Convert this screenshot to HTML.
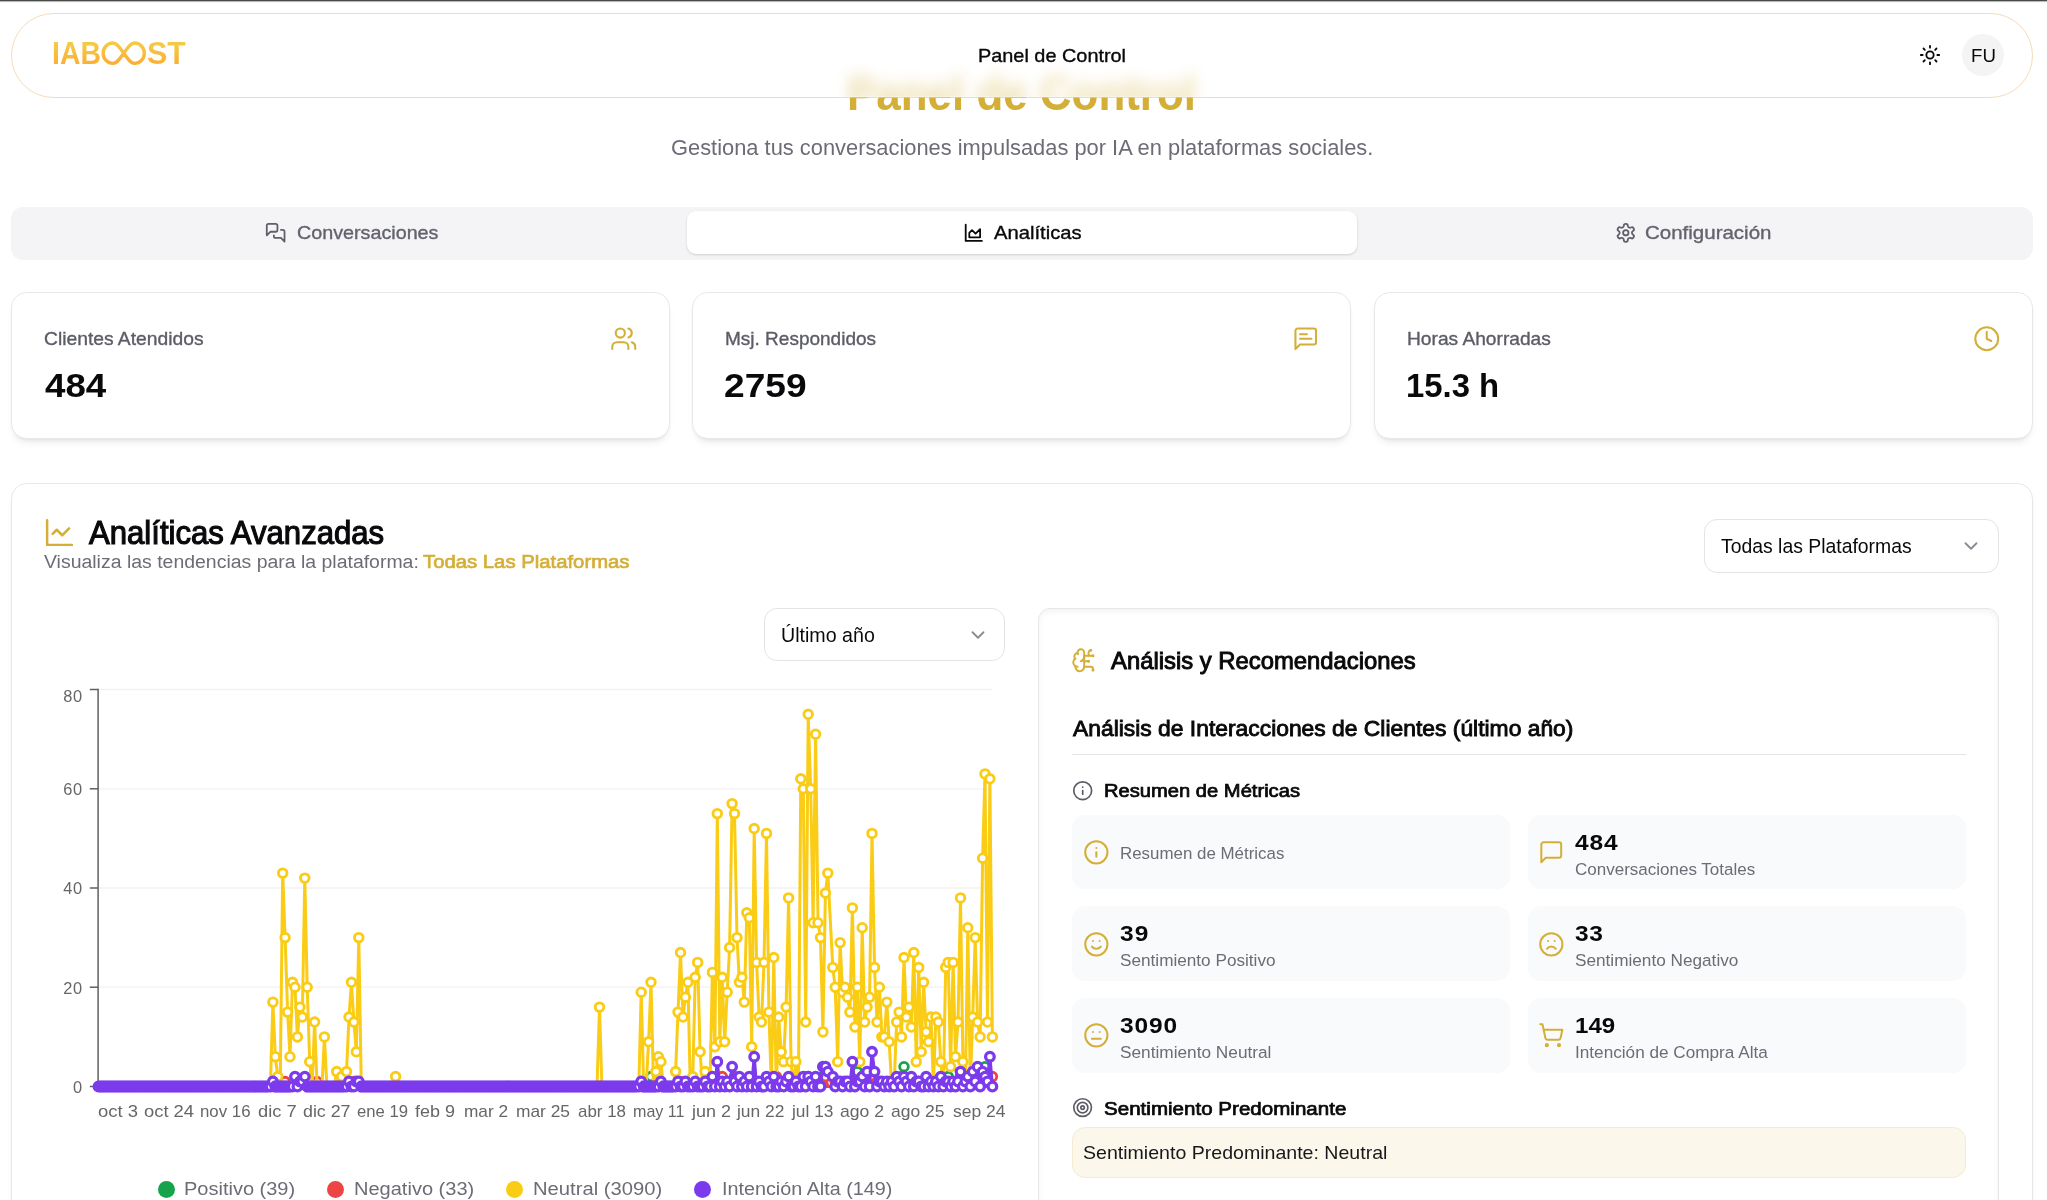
<!DOCTYPE html>
<html lang="es">
<head>
<meta charset="utf-8">
<title>Panel de Control</title>
<style>
*{box-sizing:border-box;margin:0;padding:0}
html,body{width:2047px;height:1200px;overflow:hidden;background:#fff}
body{font-family:"Liberation Sans",sans-serif;color:#09090b;position:relative;-webkit-font-smoothing:antialiased}
.abs{position:absolute}
.t{position:absolute;white-space:nowrap;line-height:1;transform:translateY(-50%)}
.gold{color:#d4af37}
.muted{color:#6c6c76}
.med{-webkit-text-stroke:0.35px currentColor}
.semi{font-weight:normal!important;-webkit-text-stroke:0.04em currentColor}
svg{display:block;overflow:visible}
.ic{position:absolute;fill:none;stroke-linecap:round;stroke-linejoin:round}

/* top bar line */
#topline{left:0;top:0;width:2047px;height:3px;background:linear-gradient(#484848 0,#484848 1px,#bdbdbd 1px,#bdbdbd 2px,#f6f6f6 2px,#f6f6f6 3px)}

/* hero (behind header) */
#hero,#hero2{top:94px;font-weight:bold;font-size:47.5px;color:#d4af37}
#sub{top:147.7px;font-size:22.3px;color:#6c6c76}

/* header pill */
#hdr{left:11px;top:12.5px;width:2021.5px;height:85px;border-radius:43px;border:1px solid #f2dcb8;background:#fff}
.lg{top:53.3px;font-weight:bold;font-size:30.8px;background:linear-gradient(180deg,#f6c944 20%,#fbb033 80%);-webkit-background-clip:text;background-clip:text;color:transparent}
#nav{left:978px;top:55px;font-size:18.5px}
#avatar{left:1962px;top:34px;width:42px;height:42px;border-radius:50%;background:#f4f4f5}
#fu{left:1971px;top:55px;font-size:17.8px}

/* tabs */
#tabs{left:11px;top:206.5px;width:2022px;height:53px;border-radius:12px;background:#f4f4f6}
#tabact{left:686.5px;top:211.2px;width:670.5px;height:42.8px;border-radius:9px;background:#fff;box-shadow:0 1px 3px rgba(0,0,0,.10),0 1px 2px rgba(0,0,0,.06)}
.tab{font-size:18.5px;top:232.5px}

/* stat cards */
.card{position:absolute;background:#fff;border:1px solid #e7e7e9;border-radius:15.5px}
.stat{top:292px;width:659px;height:147px;box-shadow:0 6px 9px -4px rgba(0,0,0,.11),0 2px 4px -2px rgba(0,0,0,.08)}
.slab{font-size:18.5px;color:#5b5c66;top:339px}
.sval{font-size:33.5px;font-weight:bold;top:385.5px}

/* analytics card */
#acard{left:11px;top:483px;width:2021.5px;height:800px;box-shadow:0 6px 9px -4px rgba(0,0,0,.11),0 2px 4px -2px rgba(0,0,0,.08)}
#atitle{left:88px;top:533px;font-size:32.5px;font-weight:bold}
#asub,#asubg{left:45px;top:562px;font-size:19.2px}
#atitle{-webkit-text-stroke-width:0.036em}
.sel{position:absolute;background:#fff;border:1px solid #e4e4e7;border-radius:13px}
.seltx{font-size:19.3px}

/* right panel */
#rp{left:1038px;top:608px;width:961px;height:700px;border-radius:12px;box-shadow:inset 0 2.8px 6px rgba(0,0,0,.05)}
#rptitle{left:1110px;top:660.5px;font-size:24.5px;font-weight:bold}
#rph{left:1072px;top:728px;font-size:21.5px;font-weight:bold}
#rpline{left:1072px;top:754.2px;width:894px;height:1.3px;background:#e4e4e7}
.h3{font-size:18px;font-weight:bold}
.tile{position:absolute;background:#f9fafc;border-radius:13px;width:437.8px;height:74.7px}
.tv{font-size:21.5px;font-weight:bold}
.tl{font-size:16.8px;color:#6c6c76}
#pred{left:1072px;top:1127.2px;width:893.6px;height:50.4px;border-radius:13px;background:#fbf7ea;border:1px solid #f4ecd2}
#predtx{left:1084px;top:1152px;font-size:18.2px;color:#18181b}

/* chart */
.ax{font-size:16.4px;color:#666}
.leg{font-size:18.3px;color:#6c6c76;top:1189px}
.dot{position:absolute;width:17px;height:17px;border-radius:50%;top:1180.6px}
/*fit*/
#logo1{transform-origin:0 50%;transform:translateY(-50%) scaleX(0.9218);letter-spacing:0.000px;left:52px!important}
#logo2{transform-origin:0 50%;transform:translateY(-50%) scaleX(0.9909);letter-spacing:0.000px;left:147px!important}
#nav{transform-origin:0 50%;transform:translateY(-50%) scaleX(1.0742);letter-spacing:0.000px;left:978px!important}
#fu{transform-origin:0 50%;transform:translateY(-50%) scaleX(1.0492);letter-spacing:0.000px;left:1971px!important}
#hero{transform-origin:0 50%;transform:translateY(-50%) scaleX(0.9247);letter-spacing:0.000px;left:847px!important}
#sub{transform-origin:0 50%;transform:translateY(-50%) scaleX(0.9804);letter-spacing:0.000px;left:671px!important}
#tab1{transform-origin:0 50%;transform:translateY(-50%) scaleX(1.0662);letter-spacing:0.000px;left:297px!important}
#tab2{transform-origin:0 50%;transform:translateY(-50%) scaleX(1.0925);letter-spacing:0.000px;left:994px!important}
#tab3{transform-origin:0 50%;transform:translateY(-50%) scaleX(1.1076);letter-spacing:0.000px;left:1645px!important}
#sl1{transform-origin:0 50%;transform:translateY(-50%) scaleX(1.0411);letter-spacing:0.000px;left:44px!important}
#sl2{transform-origin:0 50%;transform:translateY(-50%) scaleX(1.0272);letter-spacing:0.000px;left:725px!important}
#sl3{transform-origin:0 50%;transform:translateY(-50%) scaleX(1.0361);letter-spacing:0.000px;left:1407px!important}
#sv1{transform-origin:0 50%;transform:translateY(-50%) scaleX(1.0965);letter-spacing:0.000px;left:45px!important}
#sv2{transform-origin:0 50%;transform:translateY(-50%) scaleX(1.1072);letter-spacing:0.000px;left:724px!important}
#sv3{transform-origin:0 50%;transform:translateY(-50%) scaleX(0.9803);letter-spacing:0.000px;left:1406px!important}
#atitle{transform-origin:0 50%;transform:translateY(-50%) scaleX(0.9572);letter-spacing:0.000px;left:89px!important}
#asub{transform-origin:0 50%;transform:translateY(-50%) scaleX(1.0137);letter-spacing:0.000px;left:44px!important}
#asubg{transform-origin:0 50%;transform:translateY(-50%) scaleX(1.0581);letter-spacing:0.000px;left:423px!important}
#sel1{transform-origin:0 50%;transform:translateY(-50%) scaleX(1.0050);letter-spacing:-0.000px;left:1721px!important}
#sel2{transform-origin:0 50%;transform:translateY(-50%) scaleX(1.0180);letter-spacing:0.000px;left:781px!important}
#rptitle{transform-origin:0 50%;transform:translateY(-50%) scaleX(0.9729);letter-spacing:0.000px;left:1111px!important}
#rph{transform-origin:0 50%;transform:translateY(-50%) scaleX(1.0628);letter-spacing:-0.000px;left:1073px!important}
#h3a{transform-origin:0 50%;transform:translateY(-50%) scaleX(1.1194);letter-spacing:0.000px;left:1104px!important}
#h3b{transform-origin:0 50%;transform:translateY(-50%) scaleX(1.1400);letter-spacing:0.021px;left:1104px!important}
#tl0{transform-origin:0 50%;transform:translateY(-50%) scaleX(1.0070);letter-spacing:0.000px;left:1120px!important}
#tl1{transform-origin:0 50%;transform:translateY(-50%) scaleX(1.0135);letter-spacing:0.000px;left:1575px!important}
#tl2{transform-origin:0 50%;transform:translateY(-50%) scaleX(1.0231);letter-spacing:0.000px;left:1120px!important}
#tl3{transform-origin:0 50%;transform:translateY(-50%) scaleX(1.0241);letter-spacing:0.000px;left:1575px!important}
#tl4{transform-origin:0 50%;transform:translateY(-50%) scaleX(1.0276);letter-spacing:0.000px;left:1120px!important}
#tl5{transform-origin:0 50%;transform:translateY(-50%) scaleX(1.0230);letter-spacing:0.000px;left:1575px!important}
#tv1{transform-origin:0 50%;transform:translateY(-50%) scaleX(1.1400);letter-spacing:0.807px;left:1575px!important}
#tv2{transform-origin:0 50%;transform:translateY(-50%) scaleX(1.1400);letter-spacing:0.915px;left:1120px!important}
#tv3{transform-origin:0 50%;transform:translateY(-50%) scaleX(1.1400);letter-spacing:0.520px;left:1575px!important}
#tv4{transform-origin:0 50%;transform:translateY(-50%) scaleX(1.1400);letter-spacing:0.749px;left:1120px!important}
#tv5{transform-origin:0 50%;transform:translateY(-50%) scaleX(1.1194);letter-spacing:0.000px;left:1575px!important}
#predtx{transform-origin:0 50%;transform:translateY(-50%) scaleX(1.0754);letter-spacing:0.000px;left:1083px!important}
#lg1{transform-origin:0 50%;transform:translateY(-50%) scaleX(1.0936);letter-spacing:0.000px;left:184px!important}
#lg2{transform-origin:0 50%;transform:translateY(-50%) scaleX(1.0954);letter-spacing:0.000px;left:354px!important}
#lg3{transform-origin:0 50%;transform:translateY(-50%) scaleX(1.1058);letter-spacing:0.000px;left:533px!important}
#lg4{transform-origin:0 50%;transform:translateY(-50%) scaleX(1.0818);letter-spacing:0.000px;left:722px!important}
#xl0{transform-origin:0 50%;transform:translateY(-50%) scaleX(1.1259);letter-spacing:0.000px;left:98px!important}
#xl1{transform-origin:0 50%;transform:translateY(-50%) scaleX(1.1202);letter-spacing:0.000px;left:144px!important}
#xl2{transform-origin:0 50%;transform:translateY(-50%) scaleX(1.0265);letter-spacing:-0.000px;left:200px!important}
#xl3{transform-origin:0 50%;transform:translateY(-50%) scaleX(1.1125);letter-spacing:0.000px;left:258px!important}
#xl4{transform-origin:0 50%;transform:translateY(-50%) scaleX(1.0862);letter-spacing:-0.000px;left:303px!important}
#xl5{transform-origin:0 50%;transform:translateY(-50%) scaleX(1.0176);letter-spacing:0.000px;left:357px!important}
#xl6{transform-origin:0 50%;transform:translateY(-50%) scaleX(1.0974);letter-spacing:0.000px;left:415px!important}
#xl7{transform-origin:0 50%;transform:translateY(-50%) scaleX(1.0505);letter-spacing:0.000px;left:464px!important}
#xl8{transform-origin:0 50%;transform:translateY(-50%) scaleX(1.0589);letter-spacing:-0.000px;left:516px!important}
#xl9{transform-origin:0 50%;transform:translateY(-50%) scaleX(1.0331);letter-spacing:0.000px;left:578px!important}
#xl10{transform-origin:0 50%;transform:translateY(-50%) scaleX(0.9805);letter-spacing:0.000px;left:633px!important}
#xl11{transform-origin:0 50%;transform:translateY(-50%) scaleX(1.0949);letter-spacing:0.000px;left:692px!important}
#xl12{transform-origin:0 50%;transform:translateY(-50%) scaleX(1.0616);letter-spacing:0.000px;left:737px!important}
#xl13{transform-origin:0 50%;transform:translateY(-50%) scaleX(1.0570);letter-spacing:0.000px;left:792px!important}
#xl14{transform-origin:0 50%;transform:translateY(-50%) scaleX(1.0729);letter-spacing:0.000px;left:840px!important}
#xl15{transform-origin:0 50%;transform:translateY(-50%) scaleX(1.0674);letter-spacing:0.000px;left:891px!important}
#xl16{transform-origin:0 50%;transform:translateY(-50%) scaleX(1.0671);letter-spacing:0.000px;left:953px!important}
/*vcal*/
#nav{top:56.25px!important}
#fu{top:56.90px!important}
#tab1{top:233.25px!important}
#tab2{top:233.25px!important}
#tab3{top:233.25px!important}
#sl1{top:339.25px!important}
#sl2{top:339.25px!important}
#sl3{top:339.25px!important}
#sv1{top:385.75px!important}
#sv2{top:385.75px!important}
#sv3{top:385.75px!important}
#atitle{top:533.25px!important}
#asub{top:561.60px!important}
#asubg{top:561.60px!important}
#sel1{top:546.65px!important}
#rptitle{top:661.25px!important}
#rph{top:729.75px!important}
#h3a{top:791.00px!important}
#h3b{top:1109.00px!important}
#tl0{top:854.40px!important}
#tv1{top:843.75px!important}
#tl1{top:870.40px!important}
#tv2{top:934.75px!important}
#tl2{top:961.40px!important}
#tv3{top:934.75px!important}
#tl3{top:961.40px!important}
#tv4{top:1026.75px!important}
#tl4{top:1053.40px!important}
#tv5{top:1026.75px!important}
#tl5{top:1053.40px!important}
#predtx{top:1153.10px!important}
#lg1{top:1189.15px!important}
#lg2{top:1189.15px!important}
#lg3{top:1189.15px!important}
#lg4{top:1189.15px!important}
#logo1{top:54.40px!important}
#logo2{top:54.40px!important}
#sub{top:148.15px!important}
#hero{top:93.75px!important}
#xl0{top:1111.20px!important}
#xl1{top:1111.20px!important}
#xl2{top:1111.20px!important}
#xl3{top:1111.20px!important}
#xl4{top:1111.20px!important}
#xl5{top:1111.20px!important}
#xl6{top:1111.20px!important}
#xl7{top:1111.20px!important}
#xl8{top:1111.20px!important}
#xl9{top:1111.20px!important}
#xl10{top:1111.20px!important}
#xl11{top:1111.20px!important}
#xl12{top:1111.20px!important}
#xl13{top:1111.20px!important}
#xl14{top:1111.20px!important}
#xl15{top:1111.20px!important}
#xl16{top:1111.20px!important}
#yl0{top:696.20px!important}
#yl1{top:789.20px!important}
#yl2{top:888.20px!important}
#yl3{top:988.20px!important}
#yl4{top:1087.20px!important}
#sel2{top:635.65px!important}
#hero2{transform-origin:0 50%;transform:translateY(-50%) scaleX(0.9247);letter-spacing:0.000px;left:847px!important;top:93.75px!important}
#hero{clip-path:inset(27.40px -200px -200px -200px)}
#hero2{filter:blur(7.5px);opacity:.44;clip-path:inset(-200px -200px 20.70px -200px)}
</style>
</head>
<body>
<div id="root" style="position:absolute;left:0;top:0;width:2047px;height:1200px;overflow:hidden;will-change:transform">
<div class="t" id="sub">Gestiona tus conversaciones impulsadas por IA en plataformas sociales.</div>

<div class="abs" id="hdr"></div>
<div class="t" id="hero2">Panel de Control</div>
<div class="t" id="hero">Panel de Control</div>
<div class="abs" id="topline"></div>
<div class="t lg" id="logo1">IAB</div><div class="t lg" id="logo2">ST</div>
<svg class="abs" style="left:0;top:0" width="200" height="100" viewBox="0 0 200 100"><defs><linearGradient id="lgd" gradientUnits="userSpaceOnUse" x1="0" y1="42" x2="0" y2="64"><stop offset="0.1" stop-color="#f6c944"/><stop offset="0.9" stop-color="#fbb033"/></linearGradient></defs><path d="M123.75,53.20 C127.35,48.60 129.95,43.05 134.65,43.05 C139.98,43.05 144.30,47.59 144.30,53.20 C144.30,58.81 139.98,63.35 134.65,63.35 C129.95,63.35 127.35,57.80 123.75,53.20 C120.15,48.60 117.55,43.05 112.85,43.05 C107.52,43.05 103.20,47.59 103.20,53.20 C103.20,58.81 107.52,63.35 112.85,63.35 C117.55,63.35 120.15,57.80 123.75,53.20 Z" fill="none" stroke="url(#lgd)" stroke-width="3.4" stroke-linejoin="round"/></svg>
<div class="t med" id="nav">Panel de Control</div>
<div class="abs" id="avatar"></div>
<div class="t" id="fu">FU</div>

<div class="abs" id="tabs"></div>
<div class="abs" id="tabact"></div>
<div class="t tab med" id="tab1" style="left:297px;color:#63636e">Conversaciones</div>
<div class="t tab med" id="tab2" style="left:995px">Analíticas</div>
<div class="t tab med" id="tab3" style="left:1646px;color:#63636e">Configuración</div>

<div class="card stat" style="left:11px"></div>
<div class="card stat" style="left:692px"></div>
<div class="card stat" style="left:1374px;width:658.5px"></div>
<div class="t slab med" id="sl1" style="left:45px">Clientes Atendidos</div>
<div class="t slab med" id="sl2" style="left:726px">Msj. Respondidos</div>
<div class="t slab med" id="sl3" style="left:1407px">Horas Ahorradas</div>
<div class="t sval" id="sv1" style="left:45px">484</div>
<div class="t sval" id="sv2" style="left:726px">2759</div>
<div class="t sval" id="sv3" style="left:1407px">15.3 h</div>

<div class="card" id="acard"></div>
<div class="t semi" id="atitle">Analíticas Avanzadas</div>
<div class="t muted" id="asub">Visualiza las tendencias para la plataforma:</div>
<div class="t gold" id="asubg" style="-webkit-text-stroke:0.7px #d4af37">Todas Las Plataformas</div>

<div class="sel" style="left:1704px;top:519px;width:295px;height:53.5px"></div>
<div class="t seltx" id="sel1" style="left:1722px;top:546px">Todas las Plataformas</div>
<div class="sel" style="left:764.4px;top:608.4px;width:241px;height:52.2px"></div>
<div class="t seltx" id="sel2" style="left:782px;top:635px">Último año</div>

<div class="card" id="rp"></div>
<div class="t semi" id="rptitle">Análisis y Recomendaciones</div>
<div class="t semi" id="rph">Análisis de Interacciones de Clientes (último año)</div>
<div class="abs" id="rpline"></div>
<div class="t h3 semi" id="h3a" style="left:1104px;top:791px">Resumen de Métricas</div>

<div class="tile" style="left:1072.4px;top:814.7px"></div>
<div class="tile" style="left:1528px;top:814.7px"></div>
<div class="tile" style="left:1072.4px;top:906.3px"></div>
<div class="tile" style="left:1528px;top:906.3px"></div>
<div class="tile" style="left:1072.4px;top:997.9px"></div>
<div class="tile" style="left:1528px;top:997.9px"></div>

<div class="t tl" id="tl0" style="left:1120px;top:853px">Resumen de Métricas</div>
<div class="t tv" id="tv1" style="left:1576px;top:842px">484</div>
<div class="t tl" id="tl1" style="left:1576px;top:869px">Conversaciones Totales</div>
<div class="t tv" id="tv2" style="left:1120px;top:934px">39</div>
<div class="t tl" id="tl2" style="left:1120px;top:961px">Sentimiento Positivo</div>
<div class="t tv" id="tv3" style="left:1576px;top:934px">33</div>
<div class="t tl" id="tl3" style="left:1576px;top:961px">Sentimiento Negativo</div>
<div class="t tv" id="tv4" style="left:1120px;top:1025px">3090</div>
<div class="t tl" id="tl4" style="left:1120px;top:1052px">Sentimiento Neutral</div>
<div class="t tv" id="tv5" style="left:1576px;top:1025px">149</div>
<div class="t tl" id="tl5" style="left:1576px;top:1052px">Intención de Compra Alta</div>

<div class="t h3 semi" id="h3b" style="left:1104px;top:1108px">Sentimiento Predominante</div>
<div class="abs" id="pred"></div>
<div class="t" id="predtx">Sentimiento Predominante: Neutral</div>

<!-- legend -->
<div class="dot" style="left:157.5px;background:#16a34a"></div>
<div class="dot" style="left:327.1px;background:#ef4444"></div>
<div class="dot" style="left:505.7px;background:#facc15"></div>
<div class="dot" style="left:694.4px;background:#7c3aed"></div>
<div class="t leg" id="lg1" style="left:185px">Positivo (39)</div>
<div class="t leg" id="lg2" style="left:355px">Negativo (33)</div>
<div class="t leg" id="lg3" style="left:534px">Neutral (3090)</div>
<div class="t leg" id="lg4" style="left:722px">Intención Alta (149)</div>

<svg class="abs" style="left:0;top:0" width="2047" height="1200" viewBox="0 0 2047 1200"><line x1="98" x2="992" y1="987.2" y2="987.2" stroke="#f2f2f3" stroke-width="1.3"/><line x1="98" x2="992" y1="888.0" y2="888.0" stroke="#f2f2f3" stroke-width="1.3"/><line x1="98" x2="992" y1="788.8" y2="788.8" stroke="#f2f2f3" stroke-width="1.3"/><line x1="98" x2="992" y1="689.5" y2="689.5" stroke="#f2f2f3" stroke-width="1.3"/><line x1="98" x2="992" y1="1086.5" y2="1086.5" stroke="#606060" stroke-width="1.5"/><line x1="98.1" x2="98.1" y1="688.8" y2="1086.5" stroke="#606060" stroke-width="1.5"/><line x1="89.8" x2="98" y1="1086.5" y2="1086.5" stroke="#606060" stroke-width="1.5"/><line x1="89.8" x2="98" y1="987.2" y2="987.2" stroke="#606060" stroke-width="1.5"/><line x1="89.8" x2="98" y1="888.0" y2="888.0" stroke="#606060" stroke-width="1.5"/><line x1="89.8" x2="98" y1="788.8" y2="788.8" stroke="#606060" stroke-width="1.5"/><line x1="89.8" x2="98" y1="689.5" y2="689.5" stroke="#606060" stroke-width="1.5"/><path d="M98.5,1086.5L101.0,1086.5L103.4,1086.5L105.9,1086.5L108.3,1086.5L110.8,1086.5L113.2,1086.5L115.7,1086.5L118.1,1086.5L120.6,1086.5L123.1,1086.5L125.5,1086.5L128.0,1086.5L130.4,1086.5L132.9,1086.5L135.3,1086.5L137.8,1086.5L140.2,1086.5L142.7,1086.5L145.2,1086.5L147.6,1086.5L150.1,1086.5L152.5,1086.5L155.0,1086.5L157.4,1086.5L159.9,1086.5L162.3,1086.5L164.8,1086.5L167.3,1086.5L169.7,1086.5L172.2,1086.5L174.6,1086.5L177.1,1086.5L179.5,1086.5L182.0,1086.5L184.4,1086.5L186.9,1086.5L189.4,1086.5L191.8,1086.5L194.3,1086.5L196.7,1086.5L199.2,1086.5L201.6,1086.5L204.1,1086.5L206.6,1086.5L209.0,1086.5L211.5,1086.5L213.9,1086.5L216.4,1086.5L218.8,1086.5L221.3,1086.5L223.7,1086.5L226.2,1086.5L228.7,1086.5L231.1,1086.5L233.6,1086.5L236.0,1086.5L238.5,1086.5L240.9,1086.5L243.4,1086.5L245.8,1086.5L248.3,1086.5L250.8,1086.5L253.2,1086.5L255.7,1086.5L258.1,1086.5L260.6,1086.5L263.0,1086.5L265.5,1086.5L267.9,1086.5L270.4,1086.5L272.9,1086.5L275.3,1086.5L277.8,1086.5L280.2,1086.5L282.7,1086.5L285.1,1086.5L287.6,1086.5L290.0,1086.5L292.5,1086.5L295.0,1086.5L297.4,1086.5L299.9,1086.5L302.3,1086.5L304.8,1086.5L307.2,1086.5L309.7,1086.5L312.1,1086.5L314.6,1086.5L317.1,1086.5L319.5,1086.5L322.0,1086.5L324.4,1086.5L326.9,1086.5L329.3,1086.5L331.8,1086.5L334.2,1086.5L336.7,1086.5L339.2,1086.5L341.6,1086.5L344.1,1086.5L346.5,1086.5L349.0,1086.5L351.4,1086.5L353.9,1086.5L356.3,1086.5L358.8,1086.5L361.3,1086.5L363.7,1086.5L366.2,1086.5L368.6,1086.5L371.1,1086.5L373.5,1086.5L376.0,1086.5L378.4,1086.5L380.9,1086.5L383.4,1086.5L385.8,1086.5L388.3,1086.5L390.7,1086.5L393.2,1086.5L395.6,1086.5L398.1,1086.5L400.6,1086.5L403.0,1086.5L405.5,1086.5L407.9,1086.5L410.4,1086.5L412.8,1086.5L415.3,1086.5L417.7,1086.5L420.2,1086.5L422.7,1086.5L425.1,1086.5L427.6,1086.5L430.0,1086.5L432.5,1086.5L434.9,1086.5L437.4,1086.5L439.8,1086.5L442.3,1086.5L444.8,1086.5L447.2,1086.5L449.7,1086.5L452.1,1086.5L454.6,1086.5L457.0,1086.5L459.5,1086.5L461.9,1086.5L464.4,1086.5L466.9,1086.5L469.3,1086.5L471.8,1086.5L474.2,1086.5L476.7,1086.5L479.1,1086.5L481.6,1086.5L484.0,1086.5L486.5,1086.5L489.0,1086.5L491.4,1086.5L493.9,1086.5L496.3,1086.5L498.8,1086.5L501.2,1086.5L503.7,1086.5L506.1,1086.5L508.6,1086.5L511.1,1086.5L513.5,1086.5L516.0,1086.5L518.4,1086.5L520.9,1086.5L523.3,1086.5L525.8,1086.5L528.2,1086.5L530.7,1086.5L533.2,1086.5L535.6,1086.5L538.1,1086.5L540.5,1086.5L543.0,1086.5L545.4,1086.5L547.9,1086.5L550.3,1086.5L552.8,1086.5L555.3,1086.5L557.7,1086.5L560.2,1086.5L562.6,1086.5L565.1,1086.5L567.5,1086.5L570.0,1086.5L572.5,1086.5L574.9,1086.5L577.4,1086.5L579.8,1086.5L582.3,1086.5L584.7,1086.5L587.2,1086.5L589.6,1086.5L592.1,1086.5L594.6,1086.5L597.0,1086.5L599.5,1086.5L601.9,1086.5L604.4,1086.5L606.8,1086.5L609.3,1086.5L611.7,1086.5L614.2,1086.5L616.7,1086.5L619.1,1086.5L621.6,1086.5L624.0,1086.5L626.5,1086.5L628.9,1086.5L631.4,1086.5L633.8,1086.5L636.3,1086.5L638.8,1086.5L641.2,1086.5L643.7,1086.5L646.1,1086.5L648.6,1086.5L651.0,1076.6L653.5,1086.5L655.9,1086.5L658.4,1086.5L660.9,1086.5L663.3,1086.5L665.8,1086.5L668.2,1086.5L670.7,1086.5L673.1,1086.5L675.6,1086.5L678.0,1086.5L680.5,1086.5L683.0,1086.5L685.4,1086.5L687.9,1086.5L690.3,1086.5L692.8,1086.5L695.2,1086.5L697.7,1086.5L700.1,1086.5L702.6,1086.5L705.1,1086.5L707.5,1086.5L710.0,1086.5L712.4,1086.5L714.9,1086.5L717.3,1081.5L719.8,1086.5L722.2,1086.5L724.7,1086.5L727.2,1086.5L729.6,1086.5L732.1,1086.5L734.5,1086.5L737.0,1086.5L739.4,1086.5L741.9,1086.5L744.3,1086.5L746.8,1081.5L749.3,1086.5L751.7,1086.5L754.2,1086.5L756.6,1086.5L759.1,1086.5L761.5,1086.5L764.0,1086.5L766.5,1081.5L768.9,1086.5L771.4,1086.5L773.8,1086.5L776.3,1086.5L778.7,1086.5L781.2,1086.5L783.6,1086.5L786.1,1086.5L788.6,1086.5L791.0,1086.5L793.5,1086.5L795.9,1086.5L798.4,1086.5L800.8,1081.5L803.3,1086.5L805.7,1086.5L808.2,1076.6L810.7,1086.5L813.1,1086.5L815.6,1086.5L818.0,1086.5L820.5,1086.5L822.9,1076.6L825.4,1086.5L827.8,1086.5L832.8,1086.5L835.2,1086.5L837.7,1086.5L840.1,1086.5L842.6,1081.5L845.0,1086.5L847.5,1086.5L849.9,1086.5L852.4,1086.5L854.9,1086.5L857.3,1071.6L859.8,1086.5L862.2,1086.5L864.7,1086.5L867.1,1086.5L869.6,1086.5L872.0,1076.6L874.5,1086.5L877.0,1086.5L879.4,1086.5L881.9,1086.5L884.3,1086.5L886.8,1086.5L889.2,1086.5L891.7,1086.5L894.1,1086.5L896.6,1086.5L899.1,1086.5L901.5,1086.5L904.0,1066.7L906.4,1086.5L908.9,1086.5L911.3,1086.5L913.8,1081.5L916.2,1086.5L918.7,1086.5L921.2,1086.5L923.6,1086.5L926.1,1086.5L928.5,1086.5L931.0,1086.5L933.4,1081.5L935.9,1086.5L938.3,1086.5L940.8,1086.5L943.3,1086.5L945.7,1086.5L948.2,1076.6L950.6,1086.5L953.1,1086.5L955.5,1086.5L958.0,1086.5L960.5,1076.6L962.9,1086.5L965.4,1086.5L967.8,1086.5L970.3,1086.5L972.7,1086.5L975.2,1081.5L977.6,1086.5L980.1,1086.5L982.6,1086.5L985.0,1066.7L987.5,1086.5L989.9,1076.6L992.4,1086.5" fill="none" stroke="#16a34a" stroke-width="3.0" stroke-linejoin="round" stroke-linecap="round"/><g fill="#fff" stroke="#16a34a" stroke-width="2.85"><circle cx="651.0" cy="1076.6" r="4.3"/><circle cx="717.3" cy="1081.5" r="4.3"/><circle cx="746.8" cy="1081.5" r="4.3"/><circle cx="766.5" cy="1081.5" r="4.3"/><circle cx="800.8" cy="1081.5" r="4.3"/><circle cx="808.2" cy="1076.6" r="4.3"/><circle cx="822.9" cy="1076.6" r="4.3"/><circle cx="842.6" cy="1081.5" r="4.3"/><circle cx="857.3" cy="1071.6" r="4.3"/><circle cx="872.0" cy="1076.6" r="4.3"/><circle cx="904.0" cy="1066.7" r="4.3"/><circle cx="913.8" cy="1081.5" r="4.3"/><circle cx="933.4" cy="1081.5" r="4.3"/><circle cx="948.2" cy="1076.6" r="4.3"/><circle cx="960.5" cy="1076.6" r="4.3"/><circle cx="975.2" cy="1081.5" r="4.3"/><circle cx="985.0" cy="1066.7" r="4.3"/><circle cx="989.9" cy="1076.6" r="4.3"/></g><path d="M98.5,1086.5L101.0,1086.5L103.4,1086.5L105.9,1086.5L108.3,1086.5L110.8,1086.5L113.2,1086.5L115.7,1086.5L118.1,1086.5L120.6,1086.5L123.1,1086.5L125.5,1086.5L128.0,1086.5L130.4,1086.5L132.9,1086.5L135.3,1086.5L137.8,1086.5L140.2,1086.5L142.7,1086.5L145.2,1086.5L147.6,1086.5L150.1,1086.5L152.5,1086.5L155.0,1086.5L157.4,1086.5L159.9,1086.5L162.3,1086.5L164.8,1086.5L167.3,1086.5L169.7,1086.5L172.2,1086.5L174.6,1086.5L177.1,1086.5L179.5,1086.5L182.0,1086.5L184.4,1086.5L186.9,1086.5L189.4,1086.5L191.8,1086.5L194.3,1086.5L196.7,1086.5L199.2,1086.5L201.6,1086.5L204.1,1086.5L206.6,1086.5L209.0,1086.5L211.5,1086.5L213.9,1086.5L216.4,1086.5L218.8,1086.5L221.3,1086.5L223.7,1086.5L226.2,1086.5L228.7,1086.5L231.1,1086.5L233.6,1086.5L236.0,1086.5L238.5,1086.5L240.9,1086.5L243.4,1086.5L245.8,1086.5L248.3,1086.5L250.8,1086.5L253.2,1086.5L255.7,1086.5L258.1,1086.5L260.6,1086.5L263.0,1086.5L265.5,1086.5L267.9,1086.5L270.4,1086.5L272.9,1086.5L275.3,1086.5L277.8,1086.5L280.2,1086.5L282.7,1086.5L285.1,1081.5L287.6,1086.5L290.0,1086.5L292.5,1086.5L295.0,1086.5L297.4,1086.5L299.9,1086.5L302.3,1086.5L304.8,1086.5L307.2,1086.5L309.7,1086.5L312.1,1086.5L314.6,1086.5L317.1,1081.5L319.5,1086.5L322.0,1086.5L324.4,1086.5L326.9,1086.5L329.3,1086.5L331.8,1086.5L334.2,1086.5L336.7,1086.5L339.2,1086.5L341.6,1086.5L344.1,1086.5L346.5,1086.5L349.0,1086.5L351.4,1086.5L353.9,1081.5L356.3,1086.5L358.8,1086.5L361.3,1086.5L363.7,1086.5L366.2,1086.5L368.6,1086.5L371.1,1086.5L373.5,1086.5L376.0,1086.5L378.4,1086.5L380.9,1086.5L383.4,1086.5L385.8,1086.5L388.3,1086.5L390.7,1086.5L393.2,1086.5L395.6,1086.5L398.1,1086.5L400.6,1086.5L403.0,1086.5L405.5,1086.5L407.9,1086.5L410.4,1086.5L412.8,1086.5L415.3,1086.5L417.7,1086.5L420.2,1086.5L422.7,1086.5L425.1,1086.5L427.6,1086.5L430.0,1086.5L432.5,1086.5L434.9,1086.5L437.4,1086.5L439.8,1086.5L442.3,1086.5L444.8,1086.5L447.2,1086.5L449.7,1086.5L452.1,1086.5L454.6,1086.5L457.0,1086.5L459.5,1086.5L461.9,1086.5L464.4,1086.5L466.9,1086.5L469.3,1086.5L471.8,1086.5L474.2,1086.5L476.7,1086.5L479.1,1086.5L481.6,1086.5L484.0,1086.5L486.5,1086.5L489.0,1086.5L491.4,1086.5L493.9,1086.5L496.3,1086.5L498.8,1086.5L501.2,1086.5L503.7,1086.5L506.1,1086.5L508.6,1086.5L511.1,1086.5L513.5,1086.5L516.0,1086.5L518.4,1086.5L520.9,1086.5L523.3,1086.5L525.8,1086.5L528.2,1086.5L530.7,1086.5L533.2,1086.5L535.6,1086.5L538.1,1086.5L540.5,1086.5L543.0,1086.5L545.4,1086.5L547.9,1086.5L550.3,1086.5L552.8,1086.5L555.3,1086.5L557.7,1086.5L560.2,1086.5L562.6,1086.5L565.1,1086.5L567.5,1086.5L570.0,1086.5L572.5,1086.5L574.9,1086.5L577.4,1086.5L579.8,1086.5L582.3,1086.5L584.7,1086.5L587.2,1086.5L589.6,1086.5L592.1,1086.5L594.6,1086.5L597.0,1086.5L599.5,1086.5L601.9,1086.5L604.4,1086.5L606.8,1086.5L609.3,1086.5L611.7,1086.5L614.2,1086.5L616.7,1086.5L619.1,1086.5L621.6,1086.5L624.0,1086.5L626.5,1086.5L628.9,1086.5L631.4,1086.5L633.8,1086.5L636.3,1086.5L638.8,1086.5L641.2,1086.5L643.7,1086.5L646.1,1086.5L648.6,1086.5L651.0,1086.5L653.5,1086.5L655.9,1086.5L658.4,1086.5L660.9,1086.5L663.3,1086.5L665.8,1086.5L668.2,1086.5L670.7,1086.5L673.1,1086.5L675.6,1086.5L678.0,1086.5L680.5,1081.5L683.0,1086.5L685.4,1086.5L687.9,1086.5L690.3,1086.5L692.8,1086.5L695.2,1086.5L697.7,1086.5L700.1,1086.5L702.6,1086.5L705.1,1086.5L707.5,1086.5L710.0,1086.5L712.4,1086.5L714.9,1086.5L717.3,1086.5L719.8,1086.5L722.2,1076.6L724.7,1086.5L727.2,1086.5L729.6,1086.5L732.1,1086.5L734.5,1076.6L737.0,1086.5L739.4,1086.5L741.9,1081.5L744.3,1086.5L746.8,1086.5L749.3,1086.5L751.7,1086.5L754.2,1086.5L756.6,1081.5L759.1,1086.5L761.5,1086.5L764.0,1086.5L766.5,1086.5L768.9,1086.5L771.4,1081.5L773.8,1086.5L776.3,1076.6L778.7,1086.5L781.2,1086.5L783.6,1086.5L786.1,1086.5L788.6,1086.5L791.0,1086.5L793.5,1081.5L795.9,1086.5L798.4,1086.5L800.8,1086.5L803.3,1086.5L805.7,1086.5L808.2,1081.5L810.7,1086.5L813.1,1086.5L815.6,1086.5L818.0,1086.5L820.5,1086.5L822.9,1086.5L825.4,1076.6L827.8,1086.5L832.8,1086.5L835.2,1081.5L837.7,1086.5L840.1,1086.5L842.6,1086.5L845.0,1086.5L847.5,1086.5L849.9,1081.5L852.4,1086.5L854.9,1086.5L857.3,1086.5L859.8,1086.5L862.2,1076.6L864.7,1086.5L867.1,1086.5L869.6,1086.5L872.0,1086.5L874.5,1086.5L877.0,1081.5L879.4,1086.5L881.9,1086.5L884.3,1086.5L886.8,1086.5L889.2,1081.5L891.7,1086.5L894.1,1086.5L896.6,1086.5L899.1,1086.5L901.5,1076.6L904.0,1076.6L906.4,1086.5L908.9,1086.5L911.3,1086.5L913.8,1086.5L916.2,1086.5L918.7,1081.5L921.2,1086.5L923.6,1086.5L926.1,1086.5L928.5,1086.5L931.0,1086.5L933.4,1086.5L935.9,1086.5L938.3,1086.5L940.8,1086.5L943.3,1081.5L945.7,1086.5L948.2,1086.5L950.6,1081.5L953.1,1086.5L955.5,1086.5L958.0,1086.5L960.5,1086.5L962.9,1081.5L965.4,1086.5L967.8,1086.5L970.3,1076.6L972.7,1086.5L975.2,1086.5L977.6,1086.5L980.1,1081.5L982.6,1086.5L985.0,1086.5L987.5,1086.5L989.9,1086.5L992.4,1076.6" fill="none" stroke="#ef4444" stroke-width="3.0" stroke-linejoin="round" stroke-linecap="round"/><g fill="#fff" stroke="#ef4444" stroke-width="2.85"><circle cx="285.1" cy="1081.5" r="4.3"/><circle cx="317.1" cy="1081.5" r="4.3"/><circle cx="353.9" cy="1081.5" r="4.3"/><circle cx="680.5" cy="1081.5" r="4.3"/><circle cx="722.2" cy="1076.6" r="4.3"/><circle cx="734.5" cy="1076.6" r="4.3"/><circle cx="741.9" cy="1081.5" r="4.3"/><circle cx="756.6" cy="1081.5" r="4.3"/><circle cx="771.4" cy="1081.5" r="4.3"/><circle cx="776.3" cy="1076.6" r="4.3"/><circle cx="793.5" cy="1081.5" r="4.3"/><circle cx="808.2" cy="1081.5" r="4.3"/><circle cx="825.4" cy="1076.6" r="4.3"/><circle cx="835.2" cy="1081.5" r="4.3"/><circle cx="849.9" cy="1081.5" r="4.3"/><circle cx="862.2" cy="1076.6" r="4.3"/><circle cx="877.0" cy="1081.5" r="4.3"/><circle cx="889.2" cy="1081.5" r="4.3"/><circle cx="901.5" cy="1076.6" r="4.3"/><circle cx="904.0" cy="1076.6" r="4.3"/><circle cx="918.7" cy="1081.5" r="4.3"/><circle cx="943.3" cy="1081.5" r="4.3"/><circle cx="950.6" cy="1081.5" r="4.3"/><circle cx="962.9" cy="1081.5" r="4.3"/><circle cx="970.3" cy="1076.6" r="4.3"/><circle cx="980.1" cy="1081.5" r="4.3"/><circle cx="992.4" cy="1076.6" r="4.3"/></g><path d="M98.5,1086.5L101.0,1086.5L103.4,1086.5L105.9,1086.5L108.3,1086.5L110.8,1086.5L113.2,1086.5L115.7,1086.5L118.1,1086.5L120.6,1086.5L123.1,1086.5L125.5,1086.5L128.0,1086.5L130.4,1086.5L132.9,1086.5L135.3,1086.5L137.8,1086.5L140.2,1086.5L142.7,1086.5L145.2,1086.5L147.6,1086.5L150.1,1086.5L152.5,1086.5L155.0,1086.5L157.4,1086.5L159.9,1086.5L162.3,1086.5L164.8,1086.5L167.3,1086.5L169.7,1086.5L172.2,1086.5L174.6,1086.5L177.1,1086.5L179.5,1086.5L182.0,1086.5L184.4,1086.5L186.9,1086.5L189.4,1086.5L191.8,1086.5L194.3,1086.5L196.7,1086.5L199.2,1086.5L201.6,1086.5L204.1,1086.5L206.6,1086.5L209.0,1086.5L211.5,1086.5L213.9,1086.5L216.4,1086.5L218.8,1086.5L221.3,1086.5L223.7,1086.5L226.2,1086.5L228.7,1086.5L231.1,1086.5L233.6,1086.5L236.0,1086.5L238.5,1086.5L240.9,1086.5L243.4,1086.5L245.8,1086.5L248.3,1086.5L250.8,1086.5L253.2,1086.5L255.7,1086.5L258.1,1086.5L260.6,1086.5L263.0,1086.5L265.5,1086.5L267.9,1086.5L270.4,1086.5L272.9,1002.1L275.3,1056.7L277.8,1076.6L280.2,1086.5L282.7,873.1L285.1,937.6L287.6,1012.1L290.0,1056.7L292.5,982.3L295.0,987.2L297.4,1036.9L299.9,1007.1L302.3,1017.0L304.8,878.1L307.2,987.2L309.7,1061.7L312.1,1086.5L314.6,1022.0L317.1,1086.5L319.5,1086.5L322.0,1086.5L324.4,1036.9L326.9,1086.5L329.3,1086.5L331.8,1086.5L334.2,1086.5L336.7,1071.6L339.2,1086.5L341.6,1076.6L344.1,1086.5L346.5,1071.6L349.0,1017.0L351.4,982.3L353.9,1022.0L356.3,1051.8L358.8,937.6L361.3,1086.5L363.7,1086.5L366.2,1086.5L368.6,1086.5L371.1,1086.5L373.5,1086.5L376.0,1086.5L378.4,1086.5L380.9,1086.5L383.4,1086.5L385.8,1086.5L388.3,1086.5L390.7,1086.5L393.2,1086.5L395.6,1076.6L398.1,1086.5L400.6,1086.5L403.0,1086.5L405.5,1086.5L407.9,1086.5L410.4,1086.5L412.8,1086.5L415.3,1086.5L417.7,1086.5L420.2,1086.5L422.7,1086.5L425.1,1086.5L427.6,1086.5L430.0,1086.5L432.5,1086.5L434.9,1086.5L437.4,1086.5L439.8,1086.5L442.3,1086.5L444.8,1086.5L447.2,1086.5L449.7,1086.5L452.1,1086.5L454.6,1086.5L457.0,1086.5L459.5,1086.5L461.9,1086.5L464.4,1086.5L466.9,1086.5L469.3,1086.5L471.8,1086.5L474.2,1086.5L476.7,1086.5L479.1,1086.5L481.6,1086.5L484.0,1086.5L486.5,1086.5L489.0,1086.5L491.4,1086.5L493.9,1086.5L496.3,1086.5L498.8,1086.5L501.2,1086.5L503.7,1086.5L506.1,1086.5L508.6,1086.5L511.1,1086.5L513.5,1086.5L516.0,1086.5L518.4,1086.5L520.9,1086.5L523.3,1086.5L525.8,1086.5L528.2,1086.5L530.7,1086.5L533.2,1086.5L535.6,1086.5L538.1,1086.5L540.5,1086.5L543.0,1086.5L545.4,1086.5L547.9,1086.5L550.3,1086.5L552.8,1086.5L555.3,1086.5L557.7,1086.5L560.2,1086.5L562.6,1086.5L565.1,1086.5L567.5,1086.5L570.0,1086.5L572.5,1086.5L574.9,1086.5L577.4,1086.5L579.8,1086.5L582.3,1086.5L584.7,1086.5L587.2,1086.5L589.6,1086.5L592.1,1086.5L594.6,1086.5L597.0,1086.5L599.5,1007.1L601.9,1086.5L604.4,1086.5L606.8,1086.5L609.3,1086.5L611.7,1086.5L614.2,1086.5L616.7,1086.5L619.1,1086.5L621.6,1086.5L624.0,1086.5L626.5,1086.5L628.9,1086.5L631.4,1086.5L633.8,1086.5L636.3,1086.5L638.8,1086.5L641.2,992.2L643.7,1086.5L646.1,1086.5L648.6,1041.8L651.0,982.3L653.5,1086.5L655.9,1071.6L658.4,1056.7L660.9,1061.7L663.3,1086.5L665.8,1086.5L668.2,1086.5L670.7,1086.5L673.1,1086.5L675.6,1071.6L678.0,1012.1L680.5,952.5L683.0,1017.0L685.4,997.2L687.9,982.3L690.3,1086.5L692.8,1076.6L695.2,977.3L697.7,962.4L700.1,1051.8L702.6,1086.5L705.1,1071.6L707.5,1086.5L710.0,1086.5L712.4,972.4L714.9,1046.8L717.3,813.6L719.8,1041.8L722.2,977.3L724.7,1041.8L727.2,992.2L729.6,947.5L732.1,803.6L734.5,813.6L737.0,937.6L739.4,982.3L741.9,977.3L744.3,1002.1L746.8,912.8L749.3,917.8L751.7,1046.8L754.2,828.5L756.6,962.4L759.1,1017.0L761.5,1022.0L764.0,962.4L766.5,833.4L768.9,1012.1L771.4,1086.5L773.8,957.5L776.3,1086.5L778.7,1017.0L781.2,1051.8L783.6,1061.7L786.1,1007.1L788.6,897.9L791.0,1061.7L793.5,1086.5L795.9,1061.7L798.4,1086.5L800.8,778.8L803.3,788.8L805.7,1022.0L808.2,714.3L810.7,788.8L813.1,922.7L815.6,734.2L818.0,922.7L820.5,937.6L822.9,1031.9L825.4,893.0L827.8,873.1L832.8,967.4L835.2,987.2L837.7,1061.7L840.1,942.6L842.6,992.2L845.0,987.2L847.5,997.2L849.9,1012.1L852.4,907.9L854.9,1027.0L857.3,987.2L859.8,1061.7L862.2,927.7L864.7,1022.0L867.1,1007.1L869.6,997.2L872.0,833.4L874.5,967.4L877.0,1022.0L879.4,987.2L881.9,1036.9L884.3,1036.9L886.8,1002.1L889.2,1041.8L891.7,1086.5L894.1,1086.5L896.6,1022.0L899.1,1012.1L901.5,1036.9L904.0,957.5L906.4,1017.0L908.9,1007.1L911.3,1027.0L913.8,952.5L916.2,1061.7L918.7,967.4L921.2,1051.8L923.6,982.3L926.1,1031.9L928.5,1041.8L931.0,1017.0L933.4,1086.5L935.9,1017.0L938.3,1022.0L940.8,1061.7L943.3,1086.5L945.7,967.4L948.2,962.4L950.6,1066.7L953.1,962.4L955.5,1056.7L958.0,1022.0L960.5,897.9L962.9,1061.7L965.4,1086.5L967.8,927.7L970.3,1086.5L972.7,1017.0L975.2,937.6L977.6,1022.0L980.1,1036.9L982.6,858.2L985.0,773.9L987.5,1022.0L989.9,778.8L992.4,1036.9" fill="none" stroke="#facc15" stroke-width="3.0" stroke-linejoin="round" stroke-linecap="round"/><g fill="#fff" stroke="#facc15" stroke-width="2.85"><circle cx="272.9" cy="1002.1" r="4.3"/><circle cx="275.3" cy="1056.7" r="4.3"/><circle cx="277.8" cy="1076.6" r="4.3"/><circle cx="282.7" cy="873.1" r="4.3"/><circle cx="285.1" cy="937.6" r="4.3"/><circle cx="287.6" cy="1012.1" r="4.3"/><circle cx="290.0" cy="1056.7" r="4.3"/><circle cx="292.5" cy="982.3" r="4.3"/><circle cx="295.0" cy="987.2" r="4.3"/><circle cx="297.4" cy="1036.9" r="4.3"/><circle cx="299.9" cy="1007.1" r="4.3"/><circle cx="302.3" cy="1017.0" r="4.3"/><circle cx="304.8" cy="878.1" r="4.3"/><circle cx="307.2" cy="987.2" r="4.3"/><circle cx="309.7" cy="1061.7" r="4.3"/><circle cx="314.6" cy="1022.0" r="4.3"/><circle cx="324.4" cy="1036.9" r="4.3"/><circle cx="336.7" cy="1071.6" r="4.3"/><circle cx="341.6" cy="1076.6" r="4.3"/><circle cx="346.5" cy="1071.6" r="4.3"/><circle cx="349.0" cy="1017.0" r="4.3"/><circle cx="351.4" cy="982.3" r="4.3"/><circle cx="353.9" cy="1022.0" r="4.3"/><circle cx="356.3" cy="1051.8" r="4.3"/><circle cx="358.8" cy="937.6" r="4.3"/><circle cx="395.6" cy="1076.6" r="4.3"/><circle cx="599.5" cy="1007.1" r="4.3"/><circle cx="641.2" cy="992.2" r="4.3"/><circle cx="648.6" cy="1041.8" r="4.3"/><circle cx="651.0" cy="982.3" r="4.3"/><circle cx="655.9" cy="1071.6" r="4.3"/><circle cx="658.4" cy="1056.7" r="4.3"/><circle cx="660.9" cy="1061.7" r="4.3"/><circle cx="675.6" cy="1071.6" r="4.3"/><circle cx="678.0" cy="1012.1" r="4.3"/><circle cx="680.5" cy="952.5" r="4.3"/><circle cx="683.0" cy="1017.0" r="4.3"/><circle cx="685.4" cy="997.2" r="4.3"/><circle cx="687.9" cy="982.3" r="4.3"/><circle cx="692.8" cy="1076.6" r="4.3"/><circle cx="695.2" cy="977.3" r="4.3"/><circle cx="697.7" cy="962.4" r="4.3"/><circle cx="700.1" cy="1051.8" r="4.3"/><circle cx="705.1" cy="1071.6" r="4.3"/><circle cx="712.4" cy="972.4" r="4.3"/><circle cx="714.9" cy="1046.8" r="4.3"/><circle cx="717.3" cy="813.6" r="4.3"/><circle cx="719.8" cy="1041.8" r="4.3"/><circle cx="722.2" cy="977.3" r="4.3"/><circle cx="724.7" cy="1041.8" r="4.3"/><circle cx="727.2" cy="992.2" r="4.3"/><circle cx="729.6" cy="947.5" r="4.3"/><circle cx="732.1" cy="803.6" r="4.3"/><circle cx="734.5" cy="813.6" r="4.3"/><circle cx="737.0" cy="937.6" r="4.3"/><circle cx="739.4" cy="982.3" r="4.3"/><circle cx="741.9" cy="977.3" r="4.3"/><circle cx="744.3" cy="1002.1" r="4.3"/><circle cx="746.8" cy="912.8" r="4.3"/><circle cx="749.3" cy="917.8" r="4.3"/><circle cx="751.7" cy="1046.8" r="4.3"/><circle cx="754.2" cy="828.5" r="4.3"/><circle cx="756.6" cy="962.4" r="4.3"/><circle cx="759.1" cy="1017.0" r="4.3"/><circle cx="761.5" cy="1022.0" r="4.3"/><circle cx="764.0" cy="962.4" r="4.3"/><circle cx="766.5" cy="833.4" r="4.3"/><circle cx="768.9" cy="1012.1" r="4.3"/><circle cx="773.8" cy="957.5" r="4.3"/><circle cx="778.7" cy="1017.0" r="4.3"/><circle cx="781.2" cy="1051.8" r="4.3"/><circle cx="783.6" cy="1061.7" r="4.3"/><circle cx="786.1" cy="1007.1" r="4.3"/><circle cx="788.6" cy="897.9" r="4.3"/><circle cx="791.0" cy="1061.7" r="4.3"/><circle cx="795.9" cy="1061.7" r="4.3"/><circle cx="800.8" cy="778.8" r="4.3"/><circle cx="803.3" cy="788.8" r="4.3"/><circle cx="805.7" cy="1022.0" r="4.3"/><circle cx="808.2" cy="714.3" r="4.3"/><circle cx="810.7" cy="788.8" r="4.3"/><circle cx="813.1" cy="922.7" r="4.3"/><circle cx="815.6" cy="734.2" r="4.3"/><circle cx="818.0" cy="922.7" r="4.3"/><circle cx="820.5" cy="937.6" r="4.3"/><circle cx="822.9" cy="1031.9" r="4.3"/><circle cx="825.4" cy="893.0" r="4.3"/><circle cx="827.8" cy="873.1" r="4.3"/><circle cx="832.8" cy="967.4" r="4.3"/><circle cx="835.2" cy="987.2" r="4.3"/><circle cx="837.7" cy="1061.7" r="4.3"/><circle cx="840.1" cy="942.6" r="4.3"/><circle cx="842.6" cy="992.2" r="4.3"/><circle cx="845.0" cy="987.2" r="4.3"/><circle cx="847.5" cy="997.2" r="4.3"/><circle cx="849.9" cy="1012.1" r="4.3"/><circle cx="852.4" cy="907.9" r="4.3"/><circle cx="854.9" cy="1027.0" r="4.3"/><circle cx="857.3" cy="987.2" r="4.3"/><circle cx="859.8" cy="1061.7" r="4.3"/><circle cx="862.2" cy="927.7" r="4.3"/><circle cx="864.7" cy="1022.0" r="4.3"/><circle cx="867.1" cy="1007.1" r="4.3"/><circle cx="869.6" cy="997.2" r="4.3"/><circle cx="872.0" cy="833.4" r="4.3"/><circle cx="874.5" cy="967.4" r="4.3"/><circle cx="877.0" cy="1022.0" r="4.3"/><circle cx="879.4" cy="987.2" r="4.3"/><circle cx="881.9" cy="1036.9" r="4.3"/><circle cx="884.3" cy="1036.9" r="4.3"/><circle cx="886.8" cy="1002.1" r="4.3"/><circle cx="889.2" cy="1041.8" r="4.3"/><circle cx="896.6" cy="1022.0" r="4.3"/><circle cx="899.1" cy="1012.1" r="4.3"/><circle cx="901.5" cy="1036.9" r="4.3"/><circle cx="904.0" cy="957.5" r="4.3"/><circle cx="906.4" cy="1017.0" r="4.3"/><circle cx="908.9" cy="1007.1" r="4.3"/><circle cx="911.3" cy="1027.0" r="4.3"/><circle cx="913.8" cy="952.5" r="4.3"/><circle cx="916.2" cy="1061.7" r="4.3"/><circle cx="918.7" cy="967.4" r="4.3"/><circle cx="921.2" cy="1051.8" r="4.3"/><circle cx="923.6" cy="982.3" r="4.3"/><circle cx="926.1" cy="1031.9" r="4.3"/><circle cx="928.5" cy="1041.8" r="4.3"/><circle cx="931.0" cy="1017.0" r="4.3"/><circle cx="935.9" cy="1017.0" r="4.3"/><circle cx="938.3" cy="1022.0" r="4.3"/><circle cx="940.8" cy="1061.7" r="4.3"/><circle cx="945.7" cy="967.4" r="4.3"/><circle cx="948.2" cy="962.4" r="4.3"/><circle cx="950.6" cy="1066.7" r="4.3"/><circle cx="953.1" cy="962.4" r="4.3"/><circle cx="955.5" cy="1056.7" r="4.3"/><circle cx="958.0" cy="1022.0" r="4.3"/><circle cx="960.5" cy="897.9" r="4.3"/><circle cx="962.9" cy="1061.7" r="4.3"/><circle cx="967.8" cy="927.7" r="4.3"/><circle cx="972.7" cy="1017.0" r="4.3"/><circle cx="975.2" cy="937.6" r="4.3"/><circle cx="977.6" cy="1022.0" r="4.3"/><circle cx="980.1" cy="1036.9" r="4.3"/><circle cx="982.6" cy="858.2" r="4.3"/><circle cx="985.0" cy="773.9" r="4.3"/><circle cx="987.5" cy="1022.0" r="4.3"/><circle cx="989.9" cy="778.8" r="4.3"/><circle cx="992.4" cy="1036.9" r="4.3"/></g><path d="M98.5,1086.5L101.0,1086.5L103.4,1086.5L105.9,1086.5L108.3,1086.5L110.8,1086.5L113.2,1086.5L115.7,1086.5L118.1,1086.5L120.6,1086.5L123.1,1086.5L125.5,1086.5L128.0,1086.5L130.4,1086.5L132.9,1086.5L135.3,1086.5L137.8,1086.5L140.2,1086.5L142.7,1086.5L145.2,1086.5L147.6,1086.5L150.1,1086.5L152.5,1086.5L155.0,1086.5L157.4,1086.5L159.9,1086.5L162.3,1086.5L164.8,1086.5L167.3,1086.5L169.7,1086.5L172.2,1086.5L174.6,1086.5L177.1,1086.5L179.5,1086.5L182.0,1086.5L184.4,1086.5L186.9,1086.5L189.4,1086.5L191.8,1086.5L194.3,1086.5L196.7,1086.5L199.2,1086.5L201.6,1086.5L204.1,1086.5L206.6,1086.5L209.0,1086.5L211.5,1086.5L213.9,1086.5L216.4,1086.5L218.8,1086.5L221.3,1086.5L223.7,1086.5L226.2,1086.5L228.7,1086.5L231.1,1086.5L233.6,1086.5L236.0,1086.5L238.5,1086.5L240.9,1086.5L243.4,1086.5L245.8,1086.5L248.3,1086.5L250.8,1086.5L253.2,1086.5L255.7,1086.5L258.1,1086.5L260.6,1086.5L263.0,1086.5L265.5,1086.5L267.9,1086.5L270.4,1086.5L272.9,1081.5L275.3,1086.5L277.8,1086.5L280.2,1086.5L282.7,1086.5L285.1,1086.5L287.6,1086.5L290.0,1086.5L292.5,1086.5L295.0,1076.6L297.4,1086.5L299.9,1081.5L302.3,1081.5L304.8,1076.6L307.2,1086.5L309.7,1086.5L312.1,1086.5L314.6,1086.5L317.1,1086.5L319.5,1086.5L322.0,1086.5L324.4,1086.5L326.9,1086.5L329.3,1086.5L331.8,1086.5L334.2,1086.5L336.7,1086.5L339.2,1086.5L341.6,1086.5L344.1,1086.5L346.5,1086.5L349.0,1081.5L351.4,1086.5L353.9,1086.5L356.3,1081.5L358.8,1081.5L361.3,1086.5L363.7,1086.5L366.2,1086.5L368.6,1086.5L371.1,1086.5L373.5,1086.5L376.0,1086.5L378.4,1086.5L380.9,1086.5L383.4,1086.5L385.8,1086.5L388.3,1086.5L390.7,1086.5L393.2,1086.5L395.6,1086.5L398.1,1086.5L400.6,1086.5L403.0,1086.5L405.5,1086.5L407.9,1086.5L410.4,1086.5L412.8,1086.5L415.3,1086.5L417.7,1086.5L420.2,1086.5L422.7,1086.5L425.1,1086.5L427.6,1086.5L430.0,1086.5L432.5,1086.5L434.9,1086.5L437.4,1086.5L439.8,1086.5L442.3,1086.5L444.8,1086.5L447.2,1086.5L449.7,1086.5L452.1,1086.5L454.6,1086.5L457.0,1086.5L459.5,1086.5L461.9,1086.5L464.4,1086.5L466.9,1086.5L469.3,1086.5L471.8,1086.5L474.2,1086.5L476.7,1086.5L479.1,1086.5L481.6,1086.5L484.0,1086.5L486.5,1086.5L489.0,1086.5L491.4,1086.5L493.9,1086.5L496.3,1086.5L498.8,1086.5L501.2,1086.5L503.7,1086.5L506.1,1086.5L508.6,1086.5L511.1,1086.5L513.5,1086.5L516.0,1086.5L518.4,1086.5L520.9,1086.5L523.3,1086.5L525.8,1086.5L528.2,1086.5L530.7,1086.5L533.2,1086.5L535.6,1086.5L538.1,1086.5L540.5,1086.5L543.0,1086.5L545.4,1086.5L547.9,1086.5L550.3,1086.5L552.8,1086.5L555.3,1086.5L557.7,1086.5L560.2,1086.5L562.6,1086.5L565.1,1086.5L567.5,1086.5L570.0,1086.5L572.5,1086.5L574.9,1086.5L577.4,1086.5L579.8,1086.5L582.3,1086.5L584.7,1086.5L587.2,1086.5L589.6,1086.5L592.1,1086.5L594.6,1086.5L597.0,1086.5L599.5,1086.5L601.9,1086.5L604.4,1086.5L606.8,1086.5L609.3,1086.5L611.7,1086.5L614.2,1086.5L616.7,1086.5L619.1,1086.5L621.6,1086.5L624.0,1086.5L626.5,1086.5L628.9,1086.5L631.4,1086.5L633.8,1086.5L636.3,1086.5L638.8,1086.5L641.2,1081.5L643.7,1086.5L646.1,1086.5L648.6,1086.5L651.0,1086.5L653.5,1086.5L655.9,1086.5L658.4,1086.5L660.9,1081.5L663.3,1086.5L665.8,1086.5L668.2,1086.5L670.7,1086.5L673.1,1086.5L675.6,1086.5L678.0,1081.5L680.5,1086.5L683.0,1086.5L685.4,1081.5L687.9,1086.5L690.3,1086.5L692.8,1086.5L695.2,1081.5L697.7,1086.5L700.1,1086.5L702.6,1086.5L705.1,1081.5L707.5,1086.5L710.0,1086.5L712.4,1076.6L714.9,1086.5L717.3,1061.7L719.8,1086.5L722.2,1081.5L724.7,1086.5L727.2,1081.5L729.6,1086.5L732.1,1066.7L734.5,1081.5L737.0,1086.5L739.4,1076.6L741.9,1086.5L744.3,1081.5L746.8,1086.5L749.3,1076.6L751.7,1086.5L754.2,1056.7L756.6,1086.5L759.1,1081.5L761.5,1086.5L764.0,1086.5L766.5,1076.6L768.9,1081.5L771.4,1086.5L773.8,1076.6L776.3,1086.5L778.7,1086.5L781.2,1081.5L783.6,1086.5L786.1,1081.5L788.6,1076.6L791.0,1086.5L793.5,1086.5L795.9,1081.5L798.4,1086.5L800.8,1086.5L803.3,1076.6L805.7,1086.5L808.2,1076.6L810.7,1081.5L813.1,1086.5L815.6,1076.6L818.0,1086.5L820.5,1086.5L822.9,1066.7L825.4,1066.7L827.8,1071.6L832.8,1076.6L835.2,1086.5L837.7,1081.5L840.1,1081.5L842.6,1086.5L845.0,1081.5L847.5,1081.5L849.9,1086.5L852.4,1061.7L854.9,1086.5L857.3,1081.5L859.8,1081.5L862.2,1076.6L864.7,1086.5L867.1,1071.6L869.6,1086.5L872.0,1051.8L874.5,1071.6L877.0,1086.5L879.4,1081.5L881.9,1081.5L884.3,1086.5L886.8,1081.5L889.2,1086.5L891.7,1081.5L894.1,1086.5L896.6,1076.6L899.1,1081.5L901.5,1086.5L904.0,1076.6L906.4,1081.5L908.9,1086.5L911.3,1076.6L913.8,1086.5L916.2,1081.5L918.7,1081.5L921.2,1086.5L923.6,1086.5L926.1,1076.6L928.5,1086.5L931.0,1081.5L933.4,1086.5L935.9,1081.5L938.3,1086.5L940.8,1076.6L943.3,1086.5L945.7,1081.5L948.2,1081.5L950.6,1086.5L953.1,1081.5L955.5,1086.5L958.0,1081.5L960.5,1071.6L962.9,1086.5L965.4,1081.5L967.8,1076.6L970.3,1086.5L972.7,1071.6L975.2,1081.5L977.6,1066.7L980.1,1086.5L982.6,1071.6L985.0,1076.6L987.5,1081.5L989.9,1056.7L992.4,1086.5" fill="none" stroke="#7c3aed" stroke-width="3.1" stroke-linejoin="round" stroke-linecap="round"/><g fill="#fff" stroke="#7c3aed" stroke-width="3.3"><circle cx="98.5" cy="1086.5" r="4.3"/><circle cx="101.0" cy="1086.5" r="4.3"/><circle cx="103.4" cy="1086.5" r="4.3"/><circle cx="105.9" cy="1086.5" r="4.3"/><circle cx="108.3" cy="1086.5" r="4.3"/><circle cx="110.8" cy="1086.5" r="4.3"/><circle cx="113.2" cy="1086.5" r="4.3"/><circle cx="115.7" cy="1086.5" r="4.3"/><circle cx="118.1" cy="1086.5" r="4.3"/><circle cx="120.6" cy="1086.5" r="4.3"/><circle cx="123.1" cy="1086.5" r="4.3"/><circle cx="125.5" cy="1086.5" r="4.3"/><circle cx="128.0" cy="1086.5" r="4.3"/><circle cx="130.4" cy="1086.5" r="4.3"/><circle cx="132.9" cy="1086.5" r="4.3"/><circle cx="135.3" cy="1086.5" r="4.3"/><circle cx="137.8" cy="1086.5" r="4.3"/><circle cx="140.2" cy="1086.5" r="4.3"/><circle cx="142.7" cy="1086.5" r="4.3"/><circle cx="145.2" cy="1086.5" r="4.3"/><circle cx="147.6" cy="1086.5" r="4.3"/><circle cx="150.1" cy="1086.5" r="4.3"/><circle cx="152.5" cy="1086.5" r="4.3"/><circle cx="155.0" cy="1086.5" r="4.3"/><circle cx="157.4" cy="1086.5" r="4.3"/><circle cx="159.9" cy="1086.5" r="4.3"/><circle cx="162.3" cy="1086.5" r="4.3"/><circle cx="164.8" cy="1086.5" r="4.3"/><circle cx="167.3" cy="1086.5" r="4.3"/><circle cx="169.7" cy="1086.5" r="4.3"/><circle cx="172.2" cy="1086.5" r="4.3"/><circle cx="174.6" cy="1086.5" r="4.3"/><circle cx="177.1" cy="1086.5" r="4.3"/><circle cx="179.5" cy="1086.5" r="4.3"/><circle cx="182.0" cy="1086.5" r="4.3"/><circle cx="184.4" cy="1086.5" r="4.3"/><circle cx="186.9" cy="1086.5" r="4.3"/><circle cx="189.4" cy="1086.5" r="4.3"/><circle cx="191.8" cy="1086.5" r="4.3"/><circle cx="194.3" cy="1086.5" r="4.3"/><circle cx="196.7" cy="1086.5" r="4.3"/><circle cx="199.2" cy="1086.5" r="4.3"/><circle cx="201.6" cy="1086.5" r="4.3"/><circle cx="204.1" cy="1086.5" r="4.3"/><circle cx="206.6" cy="1086.5" r="4.3"/><circle cx="209.0" cy="1086.5" r="4.3"/><circle cx="211.5" cy="1086.5" r="4.3"/><circle cx="213.9" cy="1086.5" r="4.3"/><circle cx="216.4" cy="1086.5" r="4.3"/><circle cx="218.8" cy="1086.5" r="4.3"/><circle cx="221.3" cy="1086.5" r="4.3"/><circle cx="223.7" cy="1086.5" r="4.3"/><circle cx="226.2" cy="1086.5" r="4.3"/><circle cx="228.7" cy="1086.5" r="4.3"/><circle cx="231.1" cy="1086.5" r="4.3"/><circle cx="233.6" cy="1086.5" r="4.3"/><circle cx="236.0" cy="1086.5" r="4.3"/><circle cx="238.5" cy="1086.5" r="4.3"/><circle cx="240.9" cy="1086.5" r="4.3"/><circle cx="243.4" cy="1086.5" r="4.3"/><circle cx="245.8" cy="1086.5" r="4.3"/><circle cx="248.3" cy="1086.5" r="4.3"/><circle cx="250.8" cy="1086.5" r="4.3"/><circle cx="253.2" cy="1086.5" r="4.3"/><circle cx="255.7" cy="1086.5" r="4.3"/><circle cx="258.1" cy="1086.5" r="4.3"/><circle cx="260.6" cy="1086.5" r="4.3"/><circle cx="263.0" cy="1086.5" r="4.3"/><circle cx="265.5" cy="1086.5" r="4.3"/><circle cx="267.9" cy="1086.5" r="4.3"/><circle cx="270.4" cy="1086.5" r="4.3"/><circle cx="272.9" cy="1081.5" r="4.3"/><circle cx="275.3" cy="1086.5" r="4.3"/><circle cx="277.8" cy="1086.5" r="4.3"/><circle cx="280.2" cy="1086.5" r="4.3"/><circle cx="282.7" cy="1086.5" r="4.3"/><circle cx="285.1" cy="1086.5" r="4.3"/><circle cx="287.6" cy="1086.5" r="4.3"/><circle cx="290.0" cy="1086.5" r="4.3"/><circle cx="292.5" cy="1086.5" r="4.3"/><circle cx="295.0" cy="1076.6" r="4.3"/><circle cx="297.4" cy="1086.5" r="4.3"/><circle cx="299.9" cy="1081.5" r="4.3"/><circle cx="302.3" cy="1081.5" r="4.3"/><circle cx="304.8" cy="1076.6" r="4.3"/><circle cx="307.2" cy="1086.5" r="4.3"/><circle cx="309.7" cy="1086.5" r="4.3"/><circle cx="312.1" cy="1086.5" r="4.3"/><circle cx="314.6" cy="1086.5" r="4.3"/><circle cx="317.1" cy="1086.5" r="4.3"/><circle cx="319.5" cy="1086.5" r="4.3"/><circle cx="322.0" cy="1086.5" r="4.3"/><circle cx="324.4" cy="1086.5" r="4.3"/><circle cx="326.9" cy="1086.5" r="4.3"/><circle cx="329.3" cy="1086.5" r="4.3"/><circle cx="331.8" cy="1086.5" r="4.3"/><circle cx="334.2" cy="1086.5" r="4.3"/><circle cx="336.7" cy="1086.5" r="4.3"/><circle cx="339.2" cy="1086.5" r="4.3"/><circle cx="341.6" cy="1086.5" r="4.3"/><circle cx="344.1" cy="1086.5" r="4.3"/><circle cx="346.5" cy="1086.5" r="4.3"/><circle cx="349.0" cy="1081.5" r="4.3"/><circle cx="351.4" cy="1086.5" r="4.3"/><circle cx="353.9" cy="1086.5" r="4.3"/><circle cx="356.3" cy="1081.5" r="4.3"/><circle cx="358.8" cy="1081.5" r="4.3"/><circle cx="361.3" cy="1086.5" r="4.3"/><circle cx="363.7" cy="1086.5" r="4.3"/><circle cx="366.2" cy="1086.5" r="4.3"/><circle cx="368.6" cy="1086.5" r="4.3"/><circle cx="371.1" cy="1086.5" r="4.3"/><circle cx="373.5" cy="1086.5" r="4.3"/><circle cx="376.0" cy="1086.5" r="4.3"/><circle cx="378.4" cy="1086.5" r="4.3"/><circle cx="380.9" cy="1086.5" r="4.3"/><circle cx="383.4" cy="1086.5" r="4.3"/><circle cx="385.8" cy="1086.5" r="4.3"/><circle cx="388.3" cy="1086.5" r="4.3"/><circle cx="390.7" cy="1086.5" r="4.3"/><circle cx="393.2" cy="1086.5" r="4.3"/><circle cx="395.6" cy="1086.5" r="4.3"/><circle cx="398.1" cy="1086.5" r="4.3"/><circle cx="400.6" cy="1086.5" r="4.3"/><circle cx="403.0" cy="1086.5" r="4.3"/><circle cx="405.5" cy="1086.5" r="4.3"/><circle cx="407.9" cy="1086.5" r="4.3"/><circle cx="410.4" cy="1086.5" r="4.3"/><circle cx="412.8" cy="1086.5" r="4.3"/><circle cx="415.3" cy="1086.5" r="4.3"/><circle cx="417.7" cy="1086.5" r="4.3"/><circle cx="420.2" cy="1086.5" r="4.3"/><circle cx="422.7" cy="1086.5" r="4.3"/><circle cx="425.1" cy="1086.5" r="4.3"/><circle cx="427.6" cy="1086.5" r="4.3"/><circle cx="430.0" cy="1086.5" r="4.3"/><circle cx="432.5" cy="1086.5" r="4.3"/><circle cx="434.9" cy="1086.5" r="4.3"/><circle cx="437.4" cy="1086.5" r="4.3"/><circle cx="439.8" cy="1086.5" r="4.3"/><circle cx="442.3" cy="1086.5" r="4.3"/><circle cx="444.8" cy="1086.5" r="4.3"/><circle cx="447.2" cy="1086.5" r="4.3"/><circle cx="449.7" cy="1086.5" r="4.3"/><circle cx="452.1" cy="1086.5" r="4.3"/><circle cx="454.6" cy="1086.5" r="4.3"/><circle cx="457.0" cy="1086.5" r="4.3"/><circle cx="459.5" cy="1086.5" r="4.3"/><circle cx="461.9" cy="1086.5" r="4.3"/><circle cx="464.4" cy="1086.5" r="4.3"/><circle cx="466.9" cy="1086.5" r="4.3"/><circle cx="469.3" cy="1086.5" r="4.3"/><circle cx="471.8" cy="1086.5" r="4.3"/><circle cx="474.2" cy="1086.5" r="4.3"/><circle cx="476.7" cy="1086.5" r="4.3"/><circle cx="479.1" cy="1086.5" r="4.3"/><circle cx="481.6" cy="1086.5" r="4.3"/><circle cx="484.0" cy="1086.5" r="4.3"/><circle cx="486.5" cy="1086.5" r="4.3"/><circle cx="489.0" cy="1086.5" r="4.3"/><circle cx="491.4" cy="1086.5" r="4.3"/><circle cx="493.9" cy="1086.5" r="4.3"/><circle cx="496.3" cy="1086.5" r="4.3"/><circle cx="498.8" cy="1086.5" r="4.3"/><circle cx="501.2" cy="1086.5" r="4.3"/><circle cx="503.7" cy="1086.5" r="4.3"/><circle cx="506.1" cy="1086.5" r="4.3"/><circle cx="508.6" cy="1086.5" r="4.3"/><circle cx="511.1" cy="1086.5" r="4.3"/><circle cx="513.5" cy="1086.5" r="4.3"/><circle cx="516.0" cy="1086.5" r="4.3"/><circle cx="518.4" cy="1086.5" r="4.3"/><circle cx="520.9" cy="1086.5" r="4.3"/><circle cx="523.3" cy="1086.5" r="4.3"/><circle cx="525.8" cy="1086.5" r="4.3"/><circle cx="528.2" cy="1086.5" r="4.3"/><circle cx="530.7" cy="1086.5" r="4.3"/><circle cx="533.2" cy="1086.5" r="4.3"/><circle cx="535.6" cy="1086.5" r="4.3"/><circle cx="538.1" cy="1086.5" r="4.3"/><circle cx="540.5" cy="1086.5" r="4.3"/><circle cx="543.0" cy="1086.5" r="4.3"/><circle cx="545.4" cy="1086.5" r="4.3"/><circle cx="547.9" cy="1086.5" r="4.3"/><circle cx="550.3" cy="1086.5" r="4.3"/><circle cx="552.8" cy="1086.5" r="4.3"/><circle cx="555.3" cy="1086.5" r="4.3"/><circle cx="557.7" cy="1086.5" r="4.3"/><circle cx="560.2" cy="1086.5" r="4.3"/><circle cx="562.6" cy="1086.5" r="4.3"/><circle cx="565.1" cy="1086.5" r="4.3"/><circle cx="567.5" cy="1086.5" r="4.3"/><circle cx="570.0" cy="1086.5" r="4.3"/><circle cx="572.5" cy="1086.5" r="4.3"/><circle cx="574.9" cy="1086.5" r="4.3"/><circle cx="577.4" cy="1086.5" r="4.3"/><circle cx="579.8" cy="1086.5" r="4.3"/><circle cx="582.3" cy="1086.5" r="4.3"/><circle cx="584.7" cy="1086.5" r="4.3"/><circle cx="587.2" cy="1086.5" r="4.3"/><circle cx="589.6" cy="1086.5" r="4.3"/><circle cx="592.1" cy="1086.5" r="4.3"/><circle cx="594.6" cy="1086.5" r="4.3"/><circle cx="597.0" cy="1086.5" r="4.3"/><circle cx="599.5" cy="1086.5" r="4.3"/><circle cx="601.9" cy="1086.5" r="4.3"/><circle cx="604.4" cy="1086.5" r="4.3"/><circle cx="606.8" cy="1086.5" r="4.3"/><circle cx="609.3" cy="1086.5" r="4.3"/><circle cx="611.7" cy="1086.5" r="4.3"/><circle cx="614.2" cy="1086.5" r="4.3"/><circle cx="616.7" cy="1086.5" r="4.3"/><circle cx="619.1" cy="1086.5" r="4.3"/><circle cx="621.6" cy="1086.5" r="4.3"/><circle cx="624.0" cy="1086.5" r="4.3"/><circle cx="626.5" cy="1086.5" r="4.3"/><circle cx="628.9" cy="1086.5" r="4.3"/><circle cx="631.4" cy="1086.5" r="4.3"/><circle cx="633.8" cy="1086.5" r="4.3"/><circle cx="636.3" cy="1086.5" r="4.3"/><circle cx="638.8" cy="1086.5" r="4.3"/><circle cx="641.2" cy="1081.5" r="4.3"/><circle cx="643.7" cy="1086.5" r="4.3"/><circle cx="646.1" cy="1086.5" r="4.3"/><circle cx="648.6" cy="1086.5" r="4.3"/><circle cx="651.0" cy="1086.5" r="4.3"/><circle cx="653.5" cy="1086.5" r="4.3"/><circle cx="655.9" cy="1086.5" r="4.3"/><circle cx="658.4" cy="1086.5" r="4.3"/><circle cx="660.9" cy="1081.5" r="4.3"/><circle cx="663.3" cy="1086.5" r="4.3"/><circle cx="665.8" cy="1086.5" r="4.3"/><circle cx="668.2" cy="1086.5" r="4.3"/><circle cx="670.7" cy="1086.5" r="4.3"/><circle cx="673.1" cy="1086.5" r="4.3"/><circle cx="675.6" cy="1086.5" r="4.3"/><circle cx="678.0" cy="1081.5" r="4.3"/><circle cx="680.5" cy="1086.5" r="4.3"/><circle cx="683.0" cy="1086.5" r="4.3"/><circle cx="685.4" cy="1081.5" r="4.3"/><circle cx="687.9" cy="1086.5" r="4.3"/><circle cx="690.3" cy="1086.5" r="4.3"/><circle cx="692.8" cy="1086.5" r="4.3"/><circle cx="695.2" cy="1081.5" r="4.3"/><circle cx="697.7" cy="1086.5" r="4.3"/><circle cx="700.1" cy="1086.5" r="4.3"/><circle cx="702.6" cy="1086.5" r="4.3"/><circle cx="705.1" cy="1081.5" r="4.3"/><circle cx="707.5" cy="1086.5" r="4.3"/><circle cx="710.0" cy="1086.5" r="4.3"/><circle cx="712.4" cy="1076.6" r="4.3"/><circle cx="714.9" cy="1086.5" r="4.3"/><circle cx="717.3" cy="1061.7" r="4.3"/><circle cx="719.8" cy="1086.5" r="4.3"/><circle cx="722.2" cy="1081.5" r="4.3"/><circle cx="724.7" cy="1086.5" r="4.3"/><circle cx="727.2" cy="1081.5" r="4.3"/><circle cx="729.6" cy="1086.5" r="4.3"/><circle cx="732.1" cy="1066.7" r="4.3"/><circle cx="734.5" cy="1081.5" r="4.3"/><circle cx="737.0" cy="1086.5" r="4.3"/><circle cx="739.4" cy="1076.6" r="4.3"/><circle cx="741.9" cy="1086.5" r="4.3"/><circle cx="744.3" cy="1081.5" r="4.3"/><circle cx="746.8" cy="1086.5" r="4.3"/><circle cx="749.3" cy="1076.6" r="4.3"/><circle cx="751.7" cy="1086.5" r="4.3"/><circle cx="754.2" cy="1056.7" r="4.3"/><circle cx="756.6" cy="1086.5" r="4.3"/><circle cx="759.1" cy="1081.5" r="4.3"/><circle cx="761.5" cy="1086.5" r="4.3"/><circle cx="764.0" cy="1086.5" r="4.3"/><circle cx="766.5" cy="1076.6" r="4.3"/><circle cx="768.9" cy="1081.5" r="4.3"/><circle cx="771.4" cy="1086.5" r="4.3"/><circle cx="773.8" cy="1076.6" r="4.3"/><circle cx="776.3" cy="1086.5" r="4.3"/><circle cx="778.7" cy="1086.5" r="4.3"/><circle cx="781.2" cy="1081.5" r="4.3"/><circle cx="783.6" cy="1086.5" r="4.3"/><circle cx="786.1" cy="1081.5" r="4.3"/><circle cx="788.6" cy="1076.6" r="4.3"/><circle cx="791.0" cy="1086.5" r="4.3"/><circle cx="793.5" cy="1086.5" r="4.3"/><circle cx="795.9" cy="1081.5" r="4.3"/><circle cx="798.4" cy="1086.5" r="4.3"/><circle cx="800.8" cy="1086.5" r="4.3"/><circle cx="803.3" cy="1076.6" r="4.3"/><circle cx="805.7" cy="1086.5" r="4.3"/><circle cx="808.2" cy="1076.6" r="4.3"/><circle cx="810.7" cy="1081.5" r="4.3"/><circle cx="813.1" cy="1086.5" r="4.3"/><circle cx="815.6" cy="1076.6" r="4.3"/><circle cx="818.0" cy="1086.5" r="4.3"/><circle cx="820.5" cy="1086.5" r="4.3"/><circle cx="822.9" cy="1066.7" r="4.3"/><circle cx="825.4" cy="1066.7" r="4.3"/><circle cx="827.8" cy="1071.6" r="4.3"/><circle cx="832.8" cy="1076.6" r="4.3"/><circle cx="835.2" cy="1086.5" r="4.3"/><circle cx="837.7" cy="1081.5" r="4.3"/><circle cx="840.1" cy="1081.5" r="4.3"/><circle cx="842.6" cy="1086.5" r="4.3"/><circle cx="845.0" cy="1081.5" r="4.3"/><circle cx="847.5" cy="1081.5" r="4.3"/><circle cx="849.9" cy="1086.5" r="4.3"/><circle cx="852.4" cy="1061.7" r="4.3"/><circle cx="854.9" cy="1086.5" r="4.3"/><circle cx="857.3" cy="1081.5" r="4.3"/><circle cx="859.8" cy="1081.5" r="4.3"/><circle cx="862.2" cy="1076.6" r="4.3"/><circle cx="864.7" cy="1086.5" r="4.3"/><circle cx="867.1" cy="1071.6" r="4.3"/><circle cx="869.6" cy="1086.5" r="4.3"/><circle cx="872.0" cy="1051.8" r="4.3"/><circle cx="874.5" cy="1071.6" r="4.3"/><circle cx="877.0" cy="1086.5" r="4.3"/><circle cx="879.4" cy="1081.5" r="4.3"/><circle cx="881.9" cy="1081.5" r="4.3"/><circle cx="884.3" cy="1086.5" r="4.3"/><circle cx="886.8" cy="1081.5" r="4.3"/><circle cx="889.2" cy="1086.5" r="4.3"/><circle cx="891.7" cy="1081.5" r="4.3"/><circle cx="894.1" cy="1086.5" r="4.3"/><circle cx="896.6" cy="1076.6" r="4.3"/><circle cx="899.1" cy="1081.5" r="4.3"/><circle cx="901.5" cy="1086.5" r="4.3"/><circle cx="904.0" cy="1076.6" r="4.3"/><circle cx="906.4" cy="1081.5" r="4.3"/><circle cx="908.9" cy="1086.5" r="4.3"/><circle cx="911.3" cy="1076.6" r="4.3"/><circle cx="913.8" cy="1086.5" r="4.3"/><circle cx="916.2" cy="1081.5" r="4.3"/><circle cx="918.7" cy="1081.5" r="4.3"/><circle cx="921.2" cy="1086.5" r="4.3"/><circle cx="923.6" cy="1086.5" r="4.3"/><circle cx="926.1" cy="1076.6" r="4.3"/><circle cx="928.5" cy="1086.5" r="4.3"/><circle cx="931.0" cy="1081.5" r="4.3"/><circle cx="933.4" cy="1086.5" r="4.3"/><circle cx="935.9" cy="1081.5" r="4.3"/><circle cx="938.3" cy="1086.5" r="4.3"/><circle cx="940.8" cy="1076.6" r="4.3"/><circle cx="943.3" cy="1086.5" r="4.3"/><circle cx="945.7" cy="1081.5" r="4.3"/><circle cx="948.2" cy="1081.5" r="4.3"/><circle cx="950.6" cy="1086.5" r="4.3"/><circle cx="953.1" cy="1081.5" r="4.3"/><circle cx="955.5" cy="1086.5" r="4.3"/><circle cx="958.0" cy="1081.5" r="4.3"/><circle cx="960.5" cy="1071.6" r="4.3"/><circle cx="962.9" cy="1086.5" r="4.3"/><circle cx="965.4" cy="1081.5" r="4.3"/><circle cx="967.8" cy="1076.6" r="4.3"/><circle cx="970.3" cy="1086.5" r="4.3"/><circle cx="972.7" cy="1071.6" r="4.3"/><circle cx="975.2" cy="1081.5" r="4.3"/><circle cx="977.6" cy="1066.7" r="4.3"/><circle cx="980.1" cy="1086.5" r="4.3"/><circle cx="982.6" cy="1071.6" r="4.3"/><circle cx="985.0" cy="1076.6" r="4.3"/><circle cx="987.5" cy="1081.5" r="4.3"/><circle cx="989.9" cy="1056.7" r="4.3"/><circle cx="992.4" cy="1086.5" r="4.3"/></g><line x1="98.5" x2="268.1" y1="1086.5" y2="1086.5" stroke="#7c3aed" stroke-width="11.7"/><line x1="272.7" x2="290.2" y1="1086.5" y2="1086.5" stroke="#7c3aed" stroke-width="11.7"/><line x1="304.6" x2="344.2" y1="1086.5" y2="1086.5" stroke="#7c3aed" stroke-width="11.7"/><line x1="358.7" x2="636.4" y1="1086.5" y2="1086.5" stroke="#7c3aed" stroke-width="11.7"/><line x1="641.1" x2="656.1" y1="1086.5" y2="1086.5" stroke="#7c3aed" stroke-width="11.7"/><line x1="660.7" x2="673.3" y1="1086.5" y2="1086.5" stroke="#7c3aed" stroke-width="11.7"/></svg>
<div class="t ax" id="xl0" style="left:98.6px;top:1111.6px">oct 3</div>
<div class="t ax" id="xl1" style="left:144.9px;top:1111.6px">oct 24</div>
<div class="t ax" id="xl2" style="left:201.3px;top:1111.6px">nov 16</div>
<div class="t ax" id="xl3" style="left:259.1px;top:1111.6px">dic 7</div>
<div class="t ax" id="xl4" style="left:303.9px;top:1111.6px">dic 27</div>
<div class="t ax" id="xl5" style="left:358.3px;top:1111.6px">ene 19</div>
<div class="t ax" id="xl6" style="left:415.6px;top:1111.6px">feb 9</div>
<div class="t ax" id="xl7" style="left:464.9px;top:1111.6px">mar 2</div>
<div class="t ax" id="xl8" style="left:516.8px;top:1111.6px">mar 25</div>
<div class="t ax" id="xl9" style="left:578.6px;top:1111.6px">abr 18</div>
<div class="t ax" id="xl10" style="left:633.5px;top:1111.6px">may 11</div>
<div class="t ax" id="xl11" style="left:693.4px;top:1111.6px">jun 2</div>
<div class="t ax" id="xl12" style="left:738.2px;top:1111.6px">jun 22</div>
<div class="t ax" id="xl13" style="left:793px;top:1111.6px">jul 13</div>
<div class="t ax" id="xl14" style="left:840.8px;top:1111.6px">ago 2</div>
<div class="t ax" id="xl15" style="left:892.1px;top:1111.6px">ago 25</div>
<div class="t ax" id="xl16" style="left:954px;top:1111.6px">sep 24</div>
<div class="t ax" id="yl0" style="right:1964.5px;top:696px;letter-spacing:.5px">80</div>
<div class="t ax" id="yl1" style="right:1964.5px;top:789.2px;letter-spacing:.5px">60</div>
<div class="t ax" id="yl2" style="right:1964.5px;top:888.4px;letter-spacing:.5px">40</div>
<div class="t ax" id="yl3" style="right:1964.5px;top:987.7px;letter-spacing:.5px">20</div>
<div class="t ax" id="yl4" style="right:1964.5px;top:1087px;letter-spacing:.5px">0</div>

<svg class="ic" style="left:1918.5px;top:44.1px" width="22" height="22" viewBox="0 0 24 24" stroke="#09090b" stroke-width="2"><circle cx="12" cy="12" r="4"/><path d="M12 2v2"/><path d="M12 20v2"/><path d="m4.93 4.93 1.41 1.41"/><path d="m17.66 17.66 1.41 1.41"/><path d="M2 12h2"/><path d="M20 12h2"/><path d="m6.34 17.66-1.41 1.41"/><path d="m19.07 4.93-1.41 1.41"/></svg>
<svg class="ic" style="left:265.2px;top:221.8px" width="21.3" height="21.3" viewBox="0 0 24 24" stroke="#5e5f69" stroke-width="2"><path d="M14 9a2 2 0 0 1-2 2H6l-4 4V4a2 2 0 0 1 2-2h8a2 2 0 0 1 2 2z"/><path d="M18 9h2a2 2 0 0 1 2 2v11l-4-4h-6a2 2 0 0 1-2-2v-1"/></svg>
<svg class="ic" style="left:962.9px;top:221.9px" width="21.6" height="21.6" viewBox="0 0 24 24" stroke="#09090b" stroke-width="2"><path d="M3 3v18h18"/><path d="M7 12v5h12V8l-5 5-4-4Z"/></svg>
<svg class="ic" style="left:1614.5px;top:222.0px" width="21.6" height="21.6" viewBox="0 0 24 24" stroke="#5e5f69" stroke-width="2"><path d="M12.22 2h-.44a2 2 0 0 0-2 2v.18a2 2 0 0 1-1 1.73l-.43.25a2 2 0 0 1-2 0l-.15-.08a2 2 0 0 0-2.73.73l-.22.38a2 2 0 0 0 .73 2.73l.15.1a2 2 0 0 1 1 1.72v.51a2 2 0 0 1-1 1.74l-.15.09a2 2 0 0 0-.73 2.73l.22.38a2 2 0 0 0 2.73.73l.15-.08a2 2 0 0 1 2 0l.43.25a2 2 0 0 1 1 1.73V20a2 2 0 0 0 2 2h.44a2 2 0 0 0 2-2v-.18a2 2 0 0 1 1-1.73l.43-.25a2 2 0 0 1 2 0l.15.08a2 2 0 0 0 2.73-.73l.22-.39a2 2 0 0 0-.73-2.73l-.15-.08a2 2 0 0 1-1-1.74v-.5a2 2 0 0 1 1-1.74l.15-.09a2 2 0 0 0 .73-2.73l-.22-.38a2 2 0 0 0-2.73-.73l-.15.08a2 2 0 0 1-2 0l-.43-.25a2 2 0 0 1-1-1.73V4a2 2 0 0 0-2-2z"/><circle cx="12" cy="12" r="3"/></svg>
<svg class="ic" style="left:609.8px;top:325.2px" width="27.5" height="27.5" viewBox="0 0 24 24" stroke="#d4af37" stroke-width="1.8"><path d="M16 21v-2a4 4 0 0 0-4-4H6a4 4 0 0 0-4 4v2"/><circle cx="9" cy="7" r="4"/><path d="M22 21v-2a4 4 0 0 0-3-3.87"/><path d="M16 3.13a4 4 0 0 1 0 7.75"/></svg>
<svg class="ic" style="left:1291.8px;top:324.9px" width="27.5" height="27.5" viewBox="0 0 24 24" stroke="#d4af37" stroke-width="1.8"><path d="M21 15a2 2 0 0 1-2 2H7l-4 4V5a2 2 0 0 1 2-2h14a2 2 0 0 1 2 2z"/><path d="M13 8H7"/><path d="M17 12H7"/></svg>
<svg class="ic" style="left:1972.5px;top:324.9px" width="27.5" height="27.5" viewBox="0 0 24 24" stroke="#d4af37" stroke-width="1.8"><circle cx="12" cy="12" r="10"/><polyline points="12 6 12 12 16 14"/></svg>
<svg class="ic" style="left:43.2px;top:516.1px" width="33" height="33" viewBox="0 0 24 24" stroke="#d4af37" stroke-width="1.8"><path d="M3 3v18h18"/><path d="m19 9-5 5-4-4-3 3"/></svg>
<svg class="ic" style="left:1960.4px;top:535.0px" width="22" height="22" viewBox="0 0 24 24" stroke="#8a8a93" stroke-width="2"><path d="m6 9 6 6 6-6"/></svg>
<svg class="ic" style="left:966.6px;top:624.0px" width="22" height="22" viewBox="0 0 24 24" stroke="#8a8a93" stroke-width="2"><path d="m6 9 6 6 6-6"/></svg>
<svg class="ic" style="left:1071.3px;top:646.8px" width="26.4" height="26.4" viewBox="0 0 24 24" stroke="#d4af37" stroke-width="1.8"><path d="M12 5a3 3 0 1 0-5.997.125 4 4 0 0 0-2.526 5.77 4 4 0 0 0 .556 6.588A4 4 0 1 0 12 18Z"/><path d="M9 13a4.5 4.5 0 0 0 3-4"/><path d="M6.003 5.125A3 3 0 0 0 6.401 6.5"/><path d="M3.477 10.896a4 4 0 0 1 .585-.396"/><path d="M6 18a4 4 0 0 1-1.967-.516"/><path d="M12 13h4"/><path d="M12 18h6a2 2 0 0 1 2 2v1"/><path d="M12 8h8"/><path d="M16 8V5a2 2 0 0 1 2-2"/><circle cx="16" cy="13" r=".5"/><circle cx="18" cy="3" r=".5"/><circle cx="20" cy="21" r=".5"/><circle cx="20" cy="8" r=".5"/></svg>
<svg class="ic" style="left:1071.9px;top:780.0px" width="21.4" height="21.4" viewBox="0 0 24 24" stroke="#5c5c66" stroke-width="1.9"><circle cx="12" cy="12" r="10"/><path d="M12 16v-4"/><path d="M12 8h.01"/></svg>
<svg class="ic" style="left:1082.7px;top:839.1px" width="26.7" height="26.7" viewBox="0 0 24 24" stroke="#d4af37" stroke-width="1.8"><circle cx="12" cy="12" r="10"/><path d="M12 16v-4"/><path d="M12 8h.01"/></svg>
<svg class="ic" style="left:1538.0px;top:839.2px" width="26.5" height="26.5" viewBox="0 0 24 24" stroke="#d4af37" stroke-width="1.8"><path d="M21 15a2 2 0 0 1-2 2H7l-4 4V5a2 2 0 0 1 2-2h14a2 2 0 0 1 2 2z"/></svg>
<svg class="ic" style="left:1082.7px;top:930.9px" width="26.7" height="26.7" viewBox="0 0 24 24" stroke="#d4af37" stroke-width="1.8"><circle cx="12" cy="12" r="10"/><path d="M8 14s1.5 2 4 2 4-2 4-2"/><path d="M9 9h.01"/><path d="M15 9h.01"/></svg>
<svg class="ic" style="left:1538.1px;top:930.9px" width="26.7" height="26.7" viewBox="0 0 24 24" stroke="#d4af37" stroke-width="1.8"><circle cx="12" cy="12" r="10"/><path d="M16 16s-1.5-2-4-2-4 2-4 2"/><path d="M9 9h.01"/><path d="M15 9h.01"/></svg>
<svg class="ic" style="left:1082.7px;top:1021.9px" width="26.7" height="26.7" viewBox="0 0 24 24" stroke="#d4af37" stroke-width="1.8"><circle cx="12" cy="12" r="10"/><path d="M8 15h8"/><path d="M9 9h.01"/><path d="M15 9h.01"/></svg>
<svg class="ic" style="left:1538.3px;top:1022.2px" width="26.5" height="26.5" viewBox="0 0 24 24" stroke="#d4af37" stroke-width="1.8"><circle cx="8" cy="21" r="1"/><circle cx="19" cy="21" r="1"/><path d="M2.05 2.05h2l2.66 12.42a2 2 0 0 0 2 1.58h9.78a2 2 0 0 0 1.95-1.57l1.65-7.43H5.12"/></svg>
<svg class="ic" style="left:1071.9px;top:1097.3px" width="21.2" height="21.2" viewBox="0 0 24 24" stroke="#5c5c66" stroke-width="1.9"><circle cx="12" cy="12" r="10"/><circle cx="12" cy="12" r="6"/><circle cx="12" cy="12" r="2"/></svg>

</div>
</body>
</html>
